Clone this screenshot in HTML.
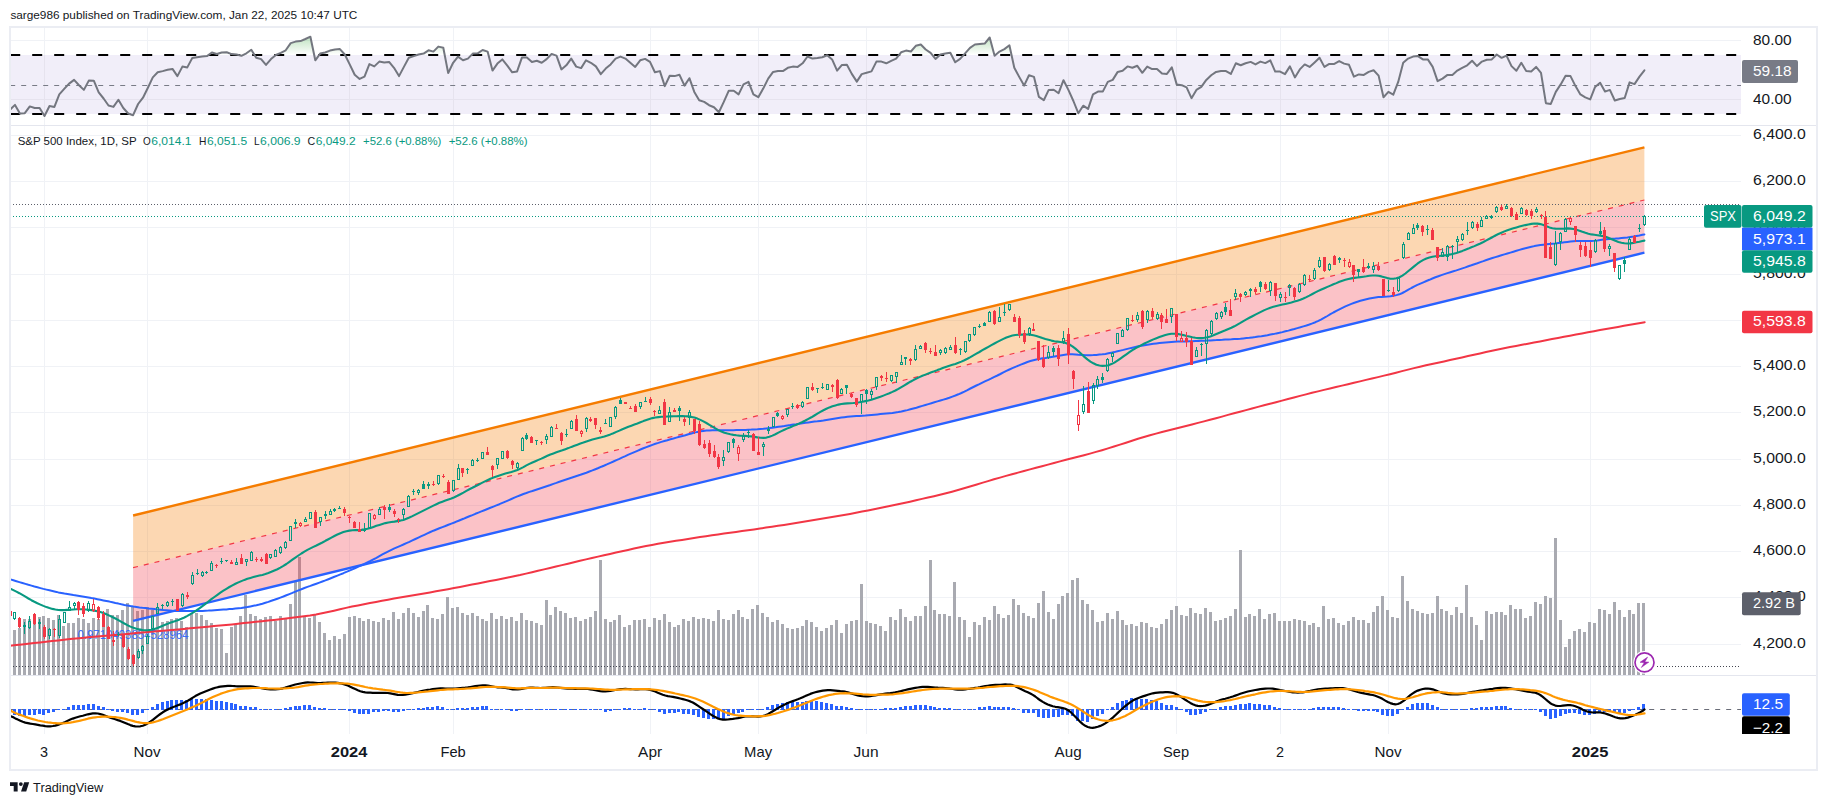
<!DOCTYPE html>
<html lang="en"><head><meta charset="utf-8"><title>S&amp;P 500 Index chart</title>
<style>
html,body{margin:0;padding:0;background:#fff;}
body{width:1827px;height:805px;overflow:hidden;font-family:"Liberation Sans", "DejaVu Sans", sans-serif;}
svg{display:block}
text{font-family:"Liberation Sans", "DejaVu Sans", sans-serif;}
</style></head><body>
<svg width="1827" height="805" viewBox="0 0 1827 805">
<rect width="1827" height="805" fill="#fff"/>

<g stroke="#f0f2f6" stroke-width="1" fill="none"><path d="M44.5 28V734"/><path d="M147.5 28V734"/><path d="M349.5 28V734"/><path d="M453.5 28V734"/><path d="M650.5 28V734"/><path d="M758.5 28V734"/><path d="M866.5 28V734"/><path d="M1068.5 28V734"/><path d="M1176.5 28V734"/><path d="M1280.5 28V734"/><path d="M1388.5 28V734"/><path d="M1590.5 28V734"/><path d="M10 644.5H1741"/><path d="M10 597.5H1741"/><path d="M10 551.5H1741"/><path d="M10 505.5H1741"/><path d="M10 459.5H1741"/><path d="M10 412.5H1741"/><path d="M10 366.5H1741"/><path d="M10 320.5H1741"/><path d="M10 274.5H1741"/><path d="M10 227.5H1741"/><path d="M10 181.5H1741"/><path d="M10 135.5H1741"/><path d="M10 40.5H1741"/><path d="M10 99.5H1741"/></g>
<defs><linearGradient id="gob" x1="0" y1="0" x2="0" y2="1" gradientUnits="userSpaceOnUse"><stop offset="0" stop-color="#4caf50" stop-opacity="0"/></linearGradient><linearGradient id="gtop" gradientUnits="userSpaceOnUse" x1="0" y1="27" x2="0" y2="55.0"><stop offset="0" stop-color="#4caf50" stop-opacity="0.55"/><stop offset="1" stop-color="#4caf50" stop-opacity="0"/></linearGradient><clipPath id="c70"><rect x="10" y="27" width="1731" height="28.0"/></clipPath><clipPath id="cmain"><rect x="10" y="125.5" width="1731" height="550.0"/></clipPath><clipPath id="cmacd"><rect x="10" y="675.5" width="1731" height="58.5"/></clipPath><clipPath id="crsi"><rect x="10" y="27" width="1731" height="98.5"/></clipPath></defs>
<rect x="10" y="55.0" width="1731" height="59.0" fill="#f1eef9"/>
<g stroke="#e6e3ee" stroke-width="1"><path d="M44.5 55.0V114.0"/><path d="M147.5 55.0V114.0"/><path d="M349.5 55.0V114.0"/><path d="M453.5 55.0V114.0"/><path d="M650.5 55.0V114.0"/><path d="M758.5 55.0V114.0"/><path d="M866.5 55.0V114.0"/><path d="M1068.5 55.0V114.0"/><path d="M1176.5 55.0V114.0"/><path d="M1280.5 55.0V114.0"/><path d="M1388.5 55.0V114.0"/><path d="M1590.5 55.0V114.0"/><path d="M10 99.5H1741"/></g>
<path d="M10.0 55.0L10.0 109.7L15.0 104.9L19.9 113.5L24.8 113.2L29.8 106.4L34.7 108.0L39.6 108.0L44.5 116.0L49.5 106.0L54.4 106.9L59.3 94.4L64.2 88.9L69.1 83.6L74.1 79.9L79.0 85.2L83.9 89.9L88.8 80.6L93.8 80.7L98.7 92.4L103.6 98.5L108.5 105.5L113.4 106.9L118.4 99.7L123.3 108.0L128.2 113.5L133.1 115.2L138.1 104.0L143.0 97.7L147.9 87.7L152.8 77.4L157.7 72.3L162.7 71.1L167.6 69.8L172.5 68.9L177.4 76.1L182.4 66.6L187.3 67.4L192.2 58.1L197.1 57.3L202.1 56.6L207.0 56.1L211.9 52.5L216.8 54.0L221.7 52.5L226.7 52.3L231.6 54.1L236.5 54.5L241.4 55.8L246.4 53.3L251.3 49.8L256.2 57.8L261.1 59.1L266.0 64.9L271.0 59.1L275.9 55.0L280.8 52.8L285.7 50.3L290.7 43.1L295.6 41.6L300.5 41.1L305.4 39.0L310.4 36.7L315.3 60.3L320.2 53.6L325.1 52.5L330.0 50.6L335.0 49.5L339.9 49.1L344.8 54.5L349.7 64.4L354.7 74.8L359.6 78.9L364.5 76.6L369.4 64.1L374.3 66.4L379.3 61.6L384.2 62.4L389.1 61.9L394.0 67.8L399.0 76.1L403.9 66.9L408.8 57.8L413.7 56.1L418.6 54.5L423.6 53.6L428.5 50.3L433.4 51.6L438.3 46.6L443.3 47.8L448.2 73.1L453.1 62.8L458.0 56.6L463.0 60.3L467.9 58.6L472.8 53.6L477.7 53.3L482.6 50.0L487.6 51.6L492.5 70.6L497.4 63.6L502.3 59.4L507.3 65.6L512.2 72.3L517.1 71.4L522.0 57.4L526.9 57.4L531.9 61.9L536.8 60.8L541.7 62.8L546.6 59.1L551.6 54.0L556.5 55.6L561.4 69.4L566.3 65.3L571.2 58.6L576.2 66.6L581.1 68.1L586.0 60.3L590.9 62.8L595.9 66.4L600.8 74.1L605.7 68.6L610.6 64.4L615.6 58.6L620.5 56.6L625.4 58.6L630.3 62.8L635.2 66.9L640.2 60.3L645.1 58.9L650.0 61.9L654.9 72.3L659.9 71.1L664.8 86.1L669.7 75.8L674.6 76.1L679.5 74.8L684.5 85.6L689.4 78.2L694.3 91.9L699.2 100.2L704.2 101.9L709.1 105.2L714.0 107.2L718.9 112.2L723.8 101.9L728.8 90.7L733.7 90.7L738.6 94.4L743.5 84.4L748.5 81.9L753.4 94.4L758.3 97.2L763.2 88.6L768.2 78.6L773.1 71.9L778.0 71.1L782.9 71.1L787.8 67.8L792.8 66.6L797.7 66.9L802.6 63.3L807.5 56.5L812.5 58.6L817.4 58.1L822.3 57.3L827.2 55.3L832.1 59.4L837.1 70.6L842.0 64.9L846.9 64.8L851.8 73.9L856.8 81.6L861.7 74.1L866.6 72.8L871.5 71.4L876.4 61.6L881.4 61.6L886.3 63.3L891.2 60.8L896.1 58.6L901.1 52.3L906.0 50.6L910.9 51.5L915.8 45.8L920.8 44.5L925.7 49.5L930.6 52.8L935.5 58.9L940.4 54.5L945.4 53.6L950.3 52.8L955.2 62.3L960.1 58.9L965.1 53.3L970.0 47.8L974.9 44.5L979.8 44.1L984.7 43.6L989.7 37.5L994.6 55.8L999.5 51.6L1004.4 49.1L1009.4 45.3L1014.3 67.8L1019.2 76.9L1024.1 85.6L1029.0 75.3L1034.0 76.9L1038.9 96.9L1043.8 100.2L1048.7 89.9L1053.7 89.7L1058.6 93.2L1063.5 80.2L1068.4 89.9L1073.4 101.0L1078.3 113.2L1083.2 105.7L1088.1 108.9L1093.0 94.4L1098.0 91.6L1102.9 91.4L1107.8 81.9L1112.7 79.9L1117.7 71.9L1122.6 70.8L1127.5 66.4L1132.4 67.8L1137.3 65.8L1142.3 72.8L1147.2 66.6L1152.1 69.1L1157.0 68.9L1162.0 73.6L1166.9 73.9L1171.8 67.3L1176.7 84.4L1181.7 85.2L1186.6 87.4L1191.5 98.2L1196.4 89.9L1201.3 86.9L1206.3 79.9L1211.2 75.3L1216.1 71.9L1221.0 71.1L1226.0 71.1L1230.9 73.9L1235.8 63.3L1240.7 65.3L1245.6 63.3L1250.6 61.9L1255.5 64.4L1260.4 61.6L1265.3 63.1L1270.3 60.3L1275.2 71.6L1280.1 71.6L1285.0 74.1L1289.9 66.4L1294.9 77.4L1299.8 69.4L1304.7 64.4L1309.6 66.9L1314.6 62.4L1319.5 57.8L1324.4 66.9L1329.3 63.9L1334.3 63.9L1339.2 61.1L1344.1 63.6L1349.0 64.8L1353.9 76.6L1358.9 74.4L1363.8 74.9L1368.7 71.9L1373.6 70.3L1378.6 75.6L1383.5 97.2L1388.4 91.9L1393.3 94.7L1398.2 81.9L1403.2 62.8L1408.1 58.6L1413.0 56.6L1417.9 56.1L1422.9 59.4L1427.8 59.4L1432.7 66.9L1437.6 81.1L1442.5 78.6L1447.5 74.9L1452.4 74.9L1457.3 70.6L1462.2 67.8L1467.2 65.3L1472.1 60.8L1477.0 66.1L1481.9 61.6L1486.9 59.8L1491.8 59.4L1496.7 54.5L1501.6 57.8L1506.5 55.6L1511.5 66.1L1516.4 70.8L1521.3 62.8L1526.2 71.1L1531.2 71.4L1536.1 66.9L1541.0 72.8L1545.9 103.2L1550.8 103.9L1555.8 91.9L1560.7 84.4L1565.6 75.8L1570.5 76.1L1575.5 86.1L1580.4 94.4L1585.3 97.4L1590.2 99.4L1595.1 86.9L1600.1 82.7L1605.0 91.6L1609.9 89.9L1614.8 100.5L1619.8 99.0L1624.7 98.0L1629.6 82.4L1634.5 84.1L1639.5 76.6L1644.4 70.3L1644.4 55.0Z" fill="url(#gtop)" clip-path="url(#c70)"/>
<path d="M10 85.5H1741" stroke="#787b86" stroke-width="1" stroke-dasharray="5 6" stroke-dashoffset="-0.2" fill="none"/>
<path d="M10 55.0H1741M10 114.0H1741" stroke="#000" stroke-width="2" stroke-dasharray="10 12" stroke-dashoffset="-0.2" fill="none"/>
<g clip-path="url(#crsi)"><path d="M10.0 109.7L15.0 104.9L19.9 113.5L24.8 113.2L29.8 106.4L34.7 108.0L39.6 108.0L44.5 116.0L49.5 106.0L54.4 106.9L59.3 94.4L64.2 88.9L69.1 83.6L74.1 79.9L79.0 85.2L83.9 89.9L88.8 80.6L93.8 80.7L98.7 92.4L103.6 98.5L108.5 105.5L113.4 106.9L118.4 99.7L123.3 108.0L128.2 113.5L133.1 115.2L138.1 104.0L143.0 97.7L147.9 87.7L152.8 77.4L157.7 72.3L162.7 71.1L167.6 69.8L172.5 68.9L177.4 76.1L182.4 66.6L187.3 67.4L192.2 58.1L197.1 57.3L202.1 56.6L207.0 56.1L211.9 52.5L216.8 54.0L221.7 52.5L226.7 52.3L231.6 54.1L236.5 54.5L241.4 55.8L246.4 53.3L251.3 49.8L256.2 57.8L261.1 59.1L266.0 64.9L271.0 59.1L275.9 55.0L280.8 52.8L285.7 50.3L290.7 43.1L295.6 41.6L300.5 41.1L305.4 39.0L310.4 36.7L315.3 60.3L320.2 53.6L325.1 52.5L330.0 50.6L335.0 49.5L339.9 49.1L344.8 54.5L349.7 64.4L354.7 74.8L359.6 78.9L364.5 76.6L369.4 64.1L374.3 66.4L379.3 61.6L384.2 62.4L389.1 61.9L394.0 67.8L399.0 76.1L403.9 66.9L408.8 57.8L413.7 56.1L418.6 54.5L423.6 53.6L428.5 50.3L433.4 51.6L438.3 46.6L443.3 47.8L448.2 73.1L453.1 62.8L458.0 56.6L463.0 60.3L467.9 58.6L472.8 53.6L477.7 53.3L482.6 50.0L487.6 51.6L492.5 70.6L497.4 63.6L502.3 59.4L507.3 65.6L512.2 72.3L517.1 71.4L522.0 57.4L526.9 57.4L531.9 61.9L536.8 60.8L541.7 62.8L546.6 59.1L551.6 54.0L556.5 55.6L561.4 69.4L566.3 65.3L571.2 58.6L576.2 66.6L581.1 68.1L586.0 60.3L590.9 62.8L595.9 66.4L600.8 74.1L605.7 68.6L610.6 64.4L615.6 58.6L620.5 56.6L625.4 58.6L630.3 62.8L635.2 66.9L640.2 60.3L645.1 58.9L650.0 61.9L654.9 72.3L659.9 71.1L664.8 86.1L669.7 75.8L674.6 76.1L679.5 74.8L684.5 85.6L689.4 78.2L694.3 91.9L699.2 100.2L704.2 101.9L709.1 105.2L714.0 107.2L718.9 112.2L723.8 101.9L728.8 90.7L733.7 90.7L738.6 94.4L743.5 84.4L748.5 81.9L753.4 94.4L758.3 97.2L763.2 88.6L768.2 78.6L773.1 71.9L778.0 71.1L782.9 71.1L787.8 67.8L792.8 66.6L797.7 66.9L802.6 63.3L807.5 56.5L812.5 58.6L817.4 58.1L822.3 57.3L827.2 55.3L832.1 59.4L837.1 70.6L842.0 64.9L846.9 64.8L851.8 73.9L856.8 81.6L861.7 74.1L866.6 72.8L871.5 71.4L876.4 61.6L881.4 61.6L886.3 63.3L891.2 60.8L896.1 58.6L901.1 52.3L906.0 50.6L910.9 51.5L915.8 45.8L920.8 44.5L925.7 49.5L930.6 52.8L935.5 58.9L940.4 54.5L945.4 53.6L950.3 52.8L955.2 62.3L960.1 58.9L965.1 53.3L970.0 47.8L974.9 44.5L979.8 44.1L984.7 43.6L989.7 37.5L994.6 55.8L999.5 51.6L1004.4 49.1L1009.4 45.3L1014.3 67.8L1019.2 76.9L1024.1 85.6L1029.0 75.3L1034.0 76.9L1038.9 96.9L1043.8 100.2L1048.7 89.9L1053.7 89.7L1058.6 93.2L1063.5 80.2L1068.4 89.9L1073.4 101.0L1078.3 113.2L1083.2 105.7L1088.1 108.9L1093.0 94.4L1098.0 91.6L1102.9 91.4L1107.8 81.9L1112.7 79.9L1117.7 71.9L1122.6 70.8L1127.5 66.4L1132.4 67.8L1137.3 65.8L1142.3 72.8L1147.2 66.6L1152.1 69.1L1157.0 68.9L1162.0 73.6L1166.9 73.9L1171.8 67.3L1176.7 84.4L1181.7 85.2L1186.6 87.4L1191.5 98.2L1196.4 89.9L1201.3 86.9L1206.3 79.9L1211.2 75.3L1216.1 71.9L1221.0 71.1L1226.0 71.1L1230.9 73.9L1235.8 63.3L1240.7 65.3L1245.6 63.3L1250.6 61.9L1255.5 64.4L1260.4 61.6L1265.3 63.1L1270.3 60.3L1275.2 71.6L1280.1 71.6L1285.0 74.1L1289.9 66.4L1294.9 77.4L1299.8 69.4L1304.7 64.4L1309.6 66.9L1314.6 62.4L1319.5 57.8L1324.4 66.9L1329.3 63.9L1334.3 63.9L1339.2 61.1L1344.1 63.6L1349.0 64.8L1353.9 76.6L1358.9 74.4L1363.8 74.9L1368.7 71.9L1373.6 70.3L1378.6 75.6L1383.5 97.2L1388.4 91.9L1393.3 94.7L1398.2 81.9L1403.2 62.8L1408.1 58.6L1413.0 56.6L1417.9 56.1L1422.9 59.4L1427.8 59.4L1432.7 66.9L1437.6 81.1L1442.5 78.6L1447.5 74.9L1452.4 74.9L1457.3 70.6L1462.2 67.8L1467.2 65.3L1472.1 60.8L1477.0 66.1L1481.9 61.6L1486.9 59.8L1491.8 59.4L1496.7 54.5L1501.6 57.8L1506.5 55.6L1511.5 66.1L1516.4 70.8L1521.3 62.8L1526.2 71.1L1531.2 71.4L1536.1 66.9L1541.0 72.8L1545.9 103.2L1550.8 103.9L1555.8 91.9L1560.7 84.4L1565.6 75.8L1570.5 76.1L1575.5 86.1L1580.4 94.4L1585.3 97.4L1590.2 99.4L1595.1 86.9L1600.1 82.7L1605.0 91.6L1609.9 89.9L1614.8 100.5L1619.8 99.0L1624.7 98.0L1629.6 82.4L1634.5 84.1L1639.5 76.6L1644.4 70.3" fill="none" stroke="#73767f" stroke-width="2" stroke-linejoin="round" stroke-linecap="round"/></g>
<g clip-path="url(#cmain)">
<g fill="#a9aab1"><rect x="10.00" y="623" width="1.00" height="52.5"/><rect x="13.00" y="630" width="3.00" height="45.5"/><rect x="18.00" y="628" width="3.00" height="47.5"/><rect x="23.00" y="619" width="3.00" height="56.5"/><rect x="28.00" y="619" width="3.00" height="56.5"/><rect x="33.00" y="619" width="3.00" height="56.5"/><rect x="38.00" y="617" width="3.00" height="58.5"/><rect x="42.00" y="616" width="3.00" height="59.5"/><rect x="47.00" y="618" width="3.00" height="57.5"/><rect x="52.00" y="620" width="3.00" height="55.5"/><rect x="57.00" y="615" width="3.00" height="60.5"/><rect x="62.00" y="626" width="3.00" height="49.5"/><rect x="67.00" y="623" width="3.00" height="52.5"/><rect x="72.00" y="623" width="3.00" height="52.5"/><rect x="77.00" y="618" width="3.00" height="57.5"/><rect x="82.00" y="619" width="3.00" height="56.5"/><rect x="87.00" y="623" width="3.00" height="52.5"/><rect x="92.00" y="618" width="3.00" height="57.5"/><rect x="97.00" y="619" width="3.00" height="56.5"/><rect x="102.00" y="616" width="3.00" height="59.5"/><rect x="106.00" y="609" width="3.00" height="66.5"/><rect x="111.00" y="615" width="3.00" height="60.5"/><rect x="116.00" y="615" width="3.00" height="60.5"/><rect x="121.00" y="610" width="3.00" height="65.5"/><rect x="126.00" y="603" width="3.00" height="72.5"/><rect x="131.00" y="606" width="3.00" height="69.5"/><rect x="136.00" y="611" width="3.00" height="64.5"/><rect x="141.00" y="610" width="3.00" height="65.5"/><rect x="146.00" y="607" width="3.00" height="68.5"/><rect x="151.00" y="610" width="3.00" height="65.5"/><rect x="156.00" y="611" width="3.00" height="64.5"/><rect x="161.00" y="622" width="3.00" height="53.5"/><rect x="166.00" y="621" width="3.00" height="54.5"/><rect x="170.00" y="619" width="3.00" height="56.5"/><rect x="175.00" y="618" width="3.00" height="57.5"/><rect x="180.00" y="621" width="3.00" height="54.5"/><rect x="185.00" y="627" width="3.00" height="48.5"/><rect x="190.00" y="613" width="3.00" height="62.5"/><rect x="195.00" y="613" width="3.00" height="62.5"/><rect x="200.00" y="615" width="3.00" height="60.5"/><rect x="205.00" y="620" width="3.00" height="55.5"/><rect x="210.00" y="623" width="3.00" height="52.5"/><rect x="215.00" y="628" width="3.00" height="47.5"/><rect x="220.00" y="629" width="3.00" height="46.5"/><rect x="225.00" y="653" width="3.00" height="22.5"/><rect x="230.00" y="627" width="3.00" height="48.5"/><rect x="234.00" y="624" width="3.00" height="51.5"/><rect x="239.00" y="616" width="3.00" height="59.5"/><rect x="244.00" y="595" width="3.00" height="80.5"/><rect x="249.00" y="614" width="3.00" height="61.5"/><rect x="254.00" y="616" width="3.00" height="59.5"/><rect x="259.00" y="619" width="3.00" height="56.5"/><rect x="264.00" y="617" width="3.00" height="58.5"/><rect x="269.00" y="616" width="3.00" height="59.5"/><rect x="274.00" y="621" width="3.00" height="54.5"/><rect x="279.00" y="616" width="3.00" height="59.5"/><rect x="284.00" y="619" width="3.00" height="56.5"/><rect x="289.00" y="604" width="3.00" height="71.5"/><rect x="294.00" y="582" width="3.00" height="93.5"/><rect x="298.00" y="557" width="3.00" height="118.5"/><rect x="303.00" y="617" width="3.00" height="58.5"/><rect x="308.00" y="618" width="3.00" height="57.5"/><rect x="313.00" y="615" width="3.00" height="60.5"/><rect x="318.00" y="622" width="3.00" height="53.5"/><rect x="323.00" y="633" width="3.00" height="42.5"/><rect x="328.00" y="640" width="3.00" height="35.5"/><rect x="333.00" y="636" width="3.00" height="39.5"/><rect x="338.00" y="639" width="3.00" height="36.5"/><rect x="343.00" y="634" width="3.00" height="41.5"/><rect x="348.00" y="617" width="3.00" height="58.5"/><rect x="353.00" y="616" width="3.00" height="59.5"/><rect x="358.00" y="618" width="3.00" height="57.5"/><rect x="362.00" y="621" width="3.00" height="54.5"/><rect x="367.00" y="619" width="3.00" height="56.5"/><rect x="372.00" y="621" width="3.00" height="54.5"/><rect x="377.00" y="622" width="3.00" height="53.5"/><rect x="382.00" y="618" width="3.00" height="57.5"/><rect x="387.00" y="620" width="3.00" height="55.5"/><rect x="392.00" y="612" width="3.00" height="63.5"/><rect x="397.00" y="619" width="3.00" height="56.5"/><rect x="402.00" y="613" width="3.00" height="62.5"/><rect x="407.00" y="608" width="3.00" height="67.5"/><rect x="412.00" y="613" width="3.00" height="62.5"/><rect x="417.00" y="617" width="3.00" height="58.5"/><rect x="422.00" y="611" width="3.00" height="64.5"/><rect x="426.00" y="605" width="3.00" height="70.5"/><rect x="431.00" y="618" width="3.00" height="57.5"/><rect x="436.00" y="619" width="3.00" height="56.5"/><rect x="441.00" y="614" width="3.00" height="61.5"/><rect x="446.00" y="597" width="3.00" height="78.5"/><rect x="451.00" y="608" width="3.00" height="67.5"/><rect x="456.00" y="607" width="3.00" height="68.5"/><rect x="461.00" y="613" width="3.00" height="62.5"/><rect x="466.00" y="615" width="3.00" height="60.5"/><rect x="471.00" y="613" width="3.00" height="62.5"/><rect x="476.00" y="616" width="3.00" height="59.5"/><rect x="481.00" y="619" width="3.00" height="56.5"/><rect x="485.00" y="621" width="3.00" height="54.5"/><rect x="490.00" y="613" width="3.00" height="62.5"/><rect x="495.00" y="619" width="3.00" height="56.5"/><rect x="500.00" y="616" width="3.00" height="59.5"/><rect x="505.00" y="619" width="3.00" height="56.5"/><rect x="510.00" y="617" width="3.00" height="58.5"/><rect x="515.00" y="621" width="3.00" height="54.5"/><rect x="520.00" y="613" width="3.00" height="62.5"/><rect x="525.00" y="620" width="3.00" height="55.5"/><rect x="530.00" y="621" width="3.00" height="54.5"/><rect x="535.00" y="623" width="3.00" height="52.5"/><rect x="540.00" y="625" width="3.00" height="50.5"/><rect x="545.00" y="600" width="3.00" height="75.5"/><rect x="549.00" y="615" width="3.00" height="60.5"/><rect x="554.00" y="607" width="3.00" height="68.5"/><rect x="559.00" y="611" width="3.00" height="64.5"/><rect x="564.00" y="613" width="3.00" height="62.5"/><rect x="569.00" y="618" width="3.00" height="57.5"/><rect x="574.00" y="617" width="3.00" height="58.5"/><rect x="579.00" y="621" width="3.00" height="54.5"/><rect x="584.00" y="619" width="3.00" height="56.5"/><rect x="589.00" y="617" width="3.00" height="58.5"/><rect x="594.00" y="611" width="3.00" height="64.5"/><rect x="599.00" y="560" width="3.00" height="115.5"/><rect x="604.00" y="619" width="3.00" height="56.5"/><rect x="609.00" y="622" width="3.00" height="53.5"/><rect x="613.00" y="620" width="3.00" height="55.5"/><rect x="618.00" y="615" width="3.00" height="60.5"/><rect x="623.00" y="627" width="3.00" height="48.5"/><rect x="628.00" y="625" width="3.00" height="50.5"/><rect x="633.00" y="620" width="3.00" height="55.5"/><rect x="638.00" y="620" width="3.00" height="55.5"/><rect x="643.00" y="619" width="3.00" height="56.5"/><rect x="648.00" y="627" width="3.00" height="48.5"/><rect x="653.00" y="618" width="3.00" height="57.5"/><rect x="658.00" y="620" width="3.00" height="55.5"/><rect x="663.00" y="614" width="3.00" height="61.5"/><rect x="668.00" y="622" width="3.00" height="53.5"/><rect x="673.00" y="627" width="3.00" height="48.5"/><rect x="677.00" y="625" width="3.00" height="50.5"/><rect x="682.00" y="619" width="3.00" height="56.5"/><rect x="687.00" y="621" width="3.00" height="54.5"/><rect x="692.00" y="617" width="3.00" height="58.5"/><rect x="697.00" y="619" width="3.00" height="56.5"/><rect x="702.00" y="618" width="3.00" height="57.5"/><rect x="707.00" y="619" width="3.00" height="56.5"/><rect x="712.00" y="621" width="3.00" height="54.5"/><rect x="717.00" y="610" width="3.00" height="65.5"/><rect x="722.00" y="619" width="3.00" height="56.5"/><rect x="727.00" y="620" width="3.00" height="55.5"/><rect x="732.00" y="614" width="3.00" height="61.5"/><rect x="737.00" y="610" width="3.00" height="65.5"/><rect x="741.00" y="617" width="3.00" height="58.5"/><rect x="746.00" y="619" width="3.00" height="56.5"/><rect x="751.00" y="609" width="3.00" height="66.5"/><rect x="756.00" y="605" width="3.00" height="70.5"/><rect x="761.00" y="613" width="3.00" height="62.5"/><rect x="766.00" y="617" width="3.00" height="58.5"/><rect x="771.00" y="622" width="3.00" height="53.5"/><rect x="776.00" y="620" width="3.00" height="55.5"/><rect x="781.00" y="624" width="3.00" height="51.5"/><rect x="786.00" y="628" width="3.00" height="47.5"/><rect x="791.00" y="629" width="3.00" height="46.5"/><rect x="796.00" y="628" width="3.00" height="47.5"/><rect x="801.00" y="626" width="3.00" height="49.5"/><rect x="805.00" y="620" width="3.00" height="55.5"/><rect x="810.00" y="622" width="3.00" height="53.5"/><rect x="815.00" y="627" width="3.00" height="48.5"/><rect x="820.00" y="631" width="3.00" height="44.5"/><rect x="825.00" y="628" width="3.00" height="47.5"/><rect x="830.00" y="625" width="3.00" height="50.5"/><rect x="835.00" y="620" width="3.00" height="55.5"/><rect x="840.00" y="633" width="3.00" height="42.5"/><rect x="845.00" y="624" width="3.00" height="51.5"/><rect x="850.00" y="621" width="3.00" height="54.5"/><rect x="855.00" y="620" width="3.00" height="55.5"/><rect x="860.00" y="584" width="3.00" height="91.5"/><rect x="865.00" y="621" width="3.00" height="54.5"/><rect x="869.00" y="623" width="3.00" height="52.5"/><rect x="874.00" y="624" width="3.00" height="51.5"/><rect x="879.00" y="626" width="3.00" height="49.5"/><rect x="884.00" y="631" width="3.00" height="44.5"/><rect x="889.00" y="617" width="3.00" height="58.5"/><rect x="894.00" y="620" width="3.00" height="55.5"/><rect x="899.00" y="609" width="3.00" height="66.5"/><rect x="904.00" y="617" width="3.00" height="58.5"/><rect x="909.00" y="621" width="3.00" height="54.5"/><rect x="914.00" y="616" width="3.00" height="59.5"/><rect x="919.00" y="616" width="3.00" height="59.5"/><rect x="924.00" y="606" width="3.00" height="69.5"/><rect x="929.00" y="560" width="3.00" height="115.5"/><rect x="933.00" y="610" width="3.00" height="65.5"/><rect x="938.00" y="614" width="3.00" height="61.5"/><rect x="943.00" y="614" width="3.00" height="61.5"/><rect x="948.00" y="616" width="3.00" height="59.5"/><rect x="953.00" y="582" width="3.00" height="93.5"/><rect x="958.00" y="617" width="3.00" height="58.5"/><rect x="963.00" y="620" width="3.00" height="55.5"/><rect x="968.00" y="637" width="3.00" height="38.5"/><rect x="973.00" y="622" width="3.00" height="53.5"/><rect x="978.00" y="625" width="3.00" height="50.5"/><rect x="983.00" y="617" width="3.00" height="58.5"/><rect x="988.00" y="620" width="3.00" height="55.5"/><rect x="993.00" y="606" width="3.00" height="69.5"/><rect x="997.00" y="614" width="3.00" height="61.5"/><rect x="1002.00" y="618" width="3.00" height="57.5"/><rect x="1007.00" y="615" width="3.00" height="60.5"/><rect x="1012.00" y="599" width="3.00" height="76.5"/><rect x="1017.00" y="605" width="3.00" height="70.5"/><rect x="1022.00" y="613" width="3.00" height="62.5"/><rect x="1027.00" y="616" width="3.00" height="59.5"/><rect x="1032.00" y="618" width="3.00" height="57.5"/><rect x="1037.00" y="603" width="3.00" height="72.5"/><rect x="1042.00" y="591" width="3.00" height="84.5"/><rect x="1047.00" y="612" width="3.00" height="63.5"/><rect x="1052.00" y="619" width="3.00" height="56.5"/><rect x="1057.00" y="604" width="3.00" height="71.5"/><rect x="1061.00" y="596" width="3.00" height="79.5"/><rect x="1066.00" y="593" width="3.00" height="82.5"/><rect x="1071.00" y="580" width="3.00" height="95.5"/><rect x="1076.00" y="578" width="3.00" height="97.5"/><rect x="1081.00" y="600" width="3.00" height="75.5"/><rect x="1086.00" y="604" width="3.00" height="71.5"/><rect x="1091.00" y="610" width="3.00" height="65.5"/><rect x="1096.00" y="622" width="3.00" height="53.5"/><rect x="1101.00" y="621" width="3.00" height="54.5"/><rect x="1106.00" y="613" width="3.00" height="62.5"/><rect x="1111.00" y="619" width="3.00" height="56.5"/><rect x="1116.00" y="611" width="3.00" height="64.5"/><rect x="1121.00" y="620" width="3.00" height="55.5"/><rect x="1125.00" y="625" width="3.00" height="50.5"/><rect x="1130.00" y="624" width="3.00" height="51.5"/><rect x="1135.00" y="626" width="3.00" height="49.5"/><rect x="1140.00" y="622" width="3.00" height="53.5"/><rect x="1145.00" y="623" width="3.00" height="52.5"/><rect x="1150.00" y="627" width="3.00" height="48.5"/><rect x="1155.00" y="628" width="3.00" height="47.5"/><rect x="1160.00" y="624" width="3.00" height="51.5"/><rect x="1165.00" y="619" width="3.00" height="56.5"/><rect x="1170.00" y="610" width="3.00" height="65.5"/><rect x="1175.00" y="606" width="3.00" height="69.5"/><rect x="1180.00" y="615" width="3.00" height="60.5"/><rect x="1185.00" y="616" width="3.00" height="59.5"/><rect x="1189.00" y="608" width="3.00" height="67.5"/><rect x="1194.00" y="613" width="3.00" height="62.5"/><rect x="1199.00" y="614" width="3.00" height="61.5"/><rect x="1204.00" y="608" width="3.00" height="67.5"/><rect x="1209.00" y="612" width="3.00" height="63.5"/><rect x="1214.00" y="621" width="3.00" height="54.5"/><rect x="1219.00" y="620" width="3.00" height="55.5"/><rect x="1224.00" y="618" width="3.00" height="57.5"/><rect x="1229.00" y="616" width="3.00" height="59.5"/><rect x="1234.00" y="609" width="3.00" height="66.5"/><rect x="1239.00" y="550" width="3.00" height="125.5"/><rect x="1244.00" y="617" width="3.00" height="58.5"/><rect x="1248.00" y="614" width="3.00" height="61.5"/><rect x="1253.00" y="616" width="3.00" height="59.5"/><rect x="1258.00" y="609" width="3.00" height="66.5"/><rect x="1263.00" y="619" width="3.00" height="56.5"/><rect x="1268.00" y="614" width="3.00" height="61.5"/><rect x="1273.00" y="613" width="3.00" height="62.5"/><rect x="1278.00" y="621" width="3.00" height="54.5"/><rect x="1283.00" y="621" width="3.00" height="54.5"/><rect x="1288.00" y="621" width="3.00" height="54.5"/><rect x="1293.00" y="619" width="3.00" height="56.5"/><rect x="1298.00" y="620" width="3.00" height="55.5"/><rect x="1303.00" y="621" width="3.00" height="54.5"/><rect x="1308.00" y="625" width="3.00" height="50.5"/><rect x="1312.00" y="623" width="3.00" height="52.5"/><rect x="1317.00" y="627" width="3.00" height="48.5"/><rect x="1322.00" y="606" width="3.00" height="69.5"/><rect x="1327.00" y="619" width="3.00" height="56.5"/><rect x="1332.00" y="618" width="3.00" height="57.5"/><rect x="1337.00" y="623" width="3.00" height="52.5"/><rect x="1342.00" y="625" width="3.00" height="50.5"/><rect x="1347.00" y="621" width="3.00" height="54.5"/><rect x="1352.00" y="617" width="3.00" height="58.5"/><rect x="1357.00" y="620" width="3.00" height="55.5"/><rect x="1362.00" y="620" width="3.00" height="55.5"/><rect x="1367.00" y="623" width="3.00" height="52.5"/><rect x="1372.00" y="612" width="3.00" height="63.5"/><rect x="1376.00" y="606" width="3.00" height="69.5"/><rect x="1381.00" y="596" width="3.00" height="79.5"/><rect x="1386.00" y="610" width="3.00" height="65.5"/><rect x="1391.00" y="617" width="3.00" height="58.5"/><rect x="1396.00" y="618" width="3.00" height="57.5"/><rect x="1401.00" y="576" width="3.00" height="99.5"/><rect x="1406.00" y="601" width="3.00" height="74.5"/><rect x="1411.00" y="609" width="3.00" height="66.5"/><rect x="1416.00" y="611" width="3.00" height="64.5"/><rect x="1421.00" y="613" width="3.00" height="62.5"/><rect x="1426.00" y="614" width="3.00" height="61.5"/><rect x="1431.00" y="613" width="3.00" height="62.5"/><rect x="1436.00" y="596" width="3.00" height="79.5"/><rect x="1440.00" y="609" width="3.00" height="66.5"/><rect x="1445.00" y="611" width="3.00" height="64.5"/><rect x="1450.00" y="615" width="3.00" height="60.5"/><rect x="1455.00" y="607" width="3.00" height="68.5"/><rect x="1460.00" y="613" width="3.00" height="62.5"/><rect x="1465.00" y="585" width="3.00" height="90.5"/><rect x="1470.00" y="617" width="3.00" height="58.5"/><rect x="1475.00" y="625" width="3.00" height="50.5"/><rect x="1480.00" y="640" width="3.00" height="35.5"/><rect x="1485.00" y="611" width="3.00" height="64.5"/><rect x="1490.00" y="614" width="3.00" height="61.5"/><rect x="1495.00" y="612" width="3.00" height="63.5"/><rect x="1500.00" y="612" width="3.00" height="63.5"/><rect x="1504.00" y="615" width="3.00" height="60.5"/><rect x="1509.00" y="605" width="3.00" height="70.5"/><rect x="1514.00" y="609" width="3.00" height="66.5"/><rect x="1519.00" y="609" width="3.00" height="66.5"/><rect x="1524.00" y="618" width="3.00" height="57.5"/><rect x="1529.00" y="616" width="3.00" height="59.5"/><rect x="1534.00" y="602" width="3.00" height="73.5"/><rect x="1539.00" y="604" width="3.00" height="71.5"/><rect x="1544.00" y="596" width="3.00" height="79.5"/><rect x="1549.00" y="598" width="3.00" height="77.5"/><rect x="1554.00" y="538" width="3.00" height="137.5"/><rect x="1559.00" y="620" width="3.00" height="55.5"/><rect x="1564.00" y="647" width="3.00" height="28.5"/><rect x="1568.00" y="639" width="3.00" height="36.5"/><rect x="1573.00" y="631" width="3.00" height="44.5"/><rect x="1578.00" y="629" width="3.00" height="46.5"/><rect x="1583.00" y="632" width="3.00" height="43.5"/><rect x="1588.00" y="622" width="3.00" height="53.5"/><rect x="1593.00" y="623" width="3.00" height="52.5"/><rect x="1598.00" y="609" width="3.00" height="66.5"/><rect x="1603.00" y="610" width="3.00" height="65.5"/><rect x="1608.00" y="614" width="3.00" height="61.5"/><rect x="1613.00" y="602" width="3.00" height="73.5"/><rect x="1618.00" y="610" width="3.00" height="65.5"/><rect x="1623.00" y="617" width="3.00" height="58.5"/><rect x="1628.00" y="610" width="3.00" height="65.5"/><rect x="1632.00" y="614" width="3.00" height="61.5"/><rect x="1637.00" y="603" width="3.00" height="72.5"/><rect x="1642.00" y="603" width="3.00" height="72.5"/></g>
<path d="M133.1 515.5L1644.4 147.3L1644.4 200.0L133.1 567.7Z" fill="#f57c00" fill-opacity="0.3"/>
<path d="M133.1 567.7L1644.4 200.0L1644.4 252.7L133.1 620.8Z" fill="#f23645" fill-opacity="0.3"/>
<path d="M133.1 567.7L1644.4 200.0" stroke="#f23645" stroke-width="1.2" stroke-dasharray="5 6" fill="none"/>
<path d="M133.1 515.5L1644.4 147.3" stroke="#f57c00" stroke-width="2.4" fill="none"/>
<path d="M133.1 620.8L1644.4 252.7" stroke="#2962ff" stroke-width="2.4" fill="none"/>
<path d="M10 204.5H1741" stroke="#5d606b" stroke-width="1" stroke-dasharray="1 2" fill="none"/>
<path d="M10 216.5H1704" stroke="#089981" stroke-width="1" stroke-dasharray="1 2" fill="none"/>
<path d="M10 666.5H1741" stroke="#434651" stroke-width="1" stroke-dasharray="1 2" fill="none"/>
<text x="77.5" y="638.8" font-size="12" fill="#2962ff" textLength="111" lengthAdjust="spacingAndGlyphs" fill-opacity="0.9">0.9710493854528964</text>
<path d="M10.0 645.8L16.0 645.1L22.0 644.4L28.0 643.8L34.0 643.1L40.0 642.4L46.0 641.7L52.0 641.0L58.0 640.4L64.0 639.7L70.0 639.1L76.0 638.4L82.0 637.9L88.0 637.3L94.0 636.8L100.0 636.3L106.0 635.8L112.0 635.2L118.0 634.7L124.0 634.2L130.0 633.7L136.0 633.1L142.0 632.6L148.0 632.1L154.0 631.5L160.0 631.0L166.0 630.5L172.0 629.9L178.0 629.4L184.0 628.9L190.0 628.3L196.0 627.8L202.0 627.2L208.0 626.7L214.0 626.1L220.0 625.6L226.0 625.0L232.0 624.4L238.0 623.7L244.0 623.1L250.0 622.4L256.0 621.8L262.0 621.2L268.0 620.5L274.0 619.9L280.0 619.2L286.0 618.5L292.0 617.8L298.0 617.0L304.0 616.2L310.0 615.4L316.0 614.4L322.0 613.2L328.0 612.0L334.0 610.7L340.0 609.3L346.0 607.9L352.0 606.6L358.0 605.4L364.0 604.2L370.0 603.1L376.0 601.9L382.0 600.8L388.0 599.7L394.0 598.6L400.0 597.6L406.0 596.5L412.0 595.5L418.0 594.4L424.0 593.4L430.0 592.4L436.0 591.3L442.0 590.3L448.0 589.2L454.0 588.1L460.0 587.0L466.0 585.8L472.0 584.6L478.0 583.4L484.0 582.2L490.0 581.1L496.0 579.9L502.0 578.7L508.0 577.5L514.0 576.2L520.0 575.0L526.0 573.6L532.0 572.2L538.0 570.8L544.0 569.4L550.0 568.0L556.0 566.5L562.0 565.1L568.0 563.7L574.0 562.2L580.0 560.8L586.0 559.4L592.0 558.0L598.0 556.6L604.0 555.2L610.0 553.9L616.0 552.5L622.0 551.2L628.0 549.9L634.0 548.5L640.0 547.2L646.0 546.0L652.0 544.9L658.0 543.8L664.0 542.8L670.0 541.8L676.0 540.8L682.0 539.9L688.0 538.9L694.0 538.0L700.0 537.1L706.0 536.2L712.0 535.3L718.0 534.5L724.0 533.6L730.0 532.8L736.0 532.0L742.0 531.1L748.0 530.3L754.0 529.4L760.0 528.5L766.0 527.6L772.0 526.7L778.0 525.8L784.0 524.9L790.0 524.0L796.0 523.1L802.0 522.1L808.0 521.1L814.0 520.1L820.0 519.1L826.0 518.1L832.0 517.1L838.0 516.0L844.0 515.0L850.0 513.9L856.0 512.8L862.0 511.6L868.0 510.4L874.0 509.2L880.0 508.0L886.0 506.8L892.0 505.6L898.0 504.3L904.0 503.0L910.0 501.7L916.0 500.3L922.0 498.9L928.0 497.6L934.0 496.2L940.0 494.8L946.0 493.3L952.0 491.7L958.0 490.0L964.0 488.3L970.0 486.5L976.0 484.7L982.0 482.9L988.0 481.1L994.0 479.3L1000.0 477.6L1006.0 475.9L1012.0 474.3L1018.0 472.6L1024.0 471.0L1030.0 469.4L1036.0 467.8L1042.0 466.2L1048.0 464.6L1054.0 463.0L1060.0 461.4L1066.0 459.8L1072.0 458.3L1078.0 456.7L1084.0 455.2L1090.0 453.6L1096.0 451.9L1102.0 450.2L1108.0 448.4L1114.0 446.5L1120.0 444.6L1126.0 442.7L1132.0 440.8L1138.0 438.8L1144.0 437.0L1150.0 435.3L1156.0 433.6L1162.0 432.0L1168.0 430.5L1174.0 429.0L1180.0 427.5L1186.0 426.0L1192.0 424.5L1198.0 422.9L1204.0 421.4L1210.0 419.8L1216.0 418.2L1222.0 416.6L1228.0 414.9L1234.0 413.3L1240.0 411.7L1246.0 410.1L1252.0 408.5L1258.0 406.9L1264.0 405.3L1270.0 403.8L1276.0 402.2L1282.0 400.6L1288.0 399.0L1294.0 397.5L1300.0 395.9L1306.0 394.4L1312.0 392.8L1318.0 391.4L1324.0 389.9L1330.0 388.5L1336.0 387.0L1342.0 385.6L1348.0 384.2L1354.0 382.8L1360.0 381.4L1366.0 379.9L1372.0 378.5L1378.0 377.1L1384.0 375.6L1390.0 374.2L1396.0 372.7L1402.0 371.1L1408.0 369.6L1414.0 368.1L1420.0 366.7L1426.0 365.3L1432.0 364.0L1438.0 362.7L1444.0 361.4L1450.0 360.0L1456.0 358.7L1462.0 357.4L1468.0 356.1L1474.0 354.7L1480.0 353.4L1486.0 352.1L1492.0 350.8L1498.0 349.5L1504.0 348.3L1510.0 347.1L1516.0 346.0L1522.0 344.8L1528.0 343.7L1534.0 342.5L1540.0 341.4L1546.0 340.3L1552.0 339.1L1558.0 338.0L1564.0 336.8L1570.0 335.7L1576.0 334.6L1582.0 333.4L1588.0 332.3L1594.0 331.2L1600.0 330.1L1606.0 329.0L1612.0 327.9L1618.0 326.9L1624.0 325.8L1630.0 324.8L1636.0 323.8L1642.0 322.7L1644.7 322.2" fill="none" stroke="#f23645" stroke-width="2" stroke-linejoin="round" stroke-linecap="round"/>
<path d="M10.4 579.4L13.4 580.3L16.4 581.2L19.4 582.1L22.4 583.0L25.4 583.9L28.4 584.8L31.4 585.6L34.4 586.5L37.4 587.3L40.4 588.1L43.4 588.9L46.4 589.6L49.4 590.3L52.4 591.0L55.4 591.7L58.4 592.4L61.4 593.0L64.4 593.6L67.4 594.1L70.4 594.6L73.4 595.1L76.4 595.5L79.4 596.0L82.4 596.5L85.4 597.0L88.4 597.5L91.4 598.1L94.4 598.6L97.4 599.2L100.4 599.8L103.4 600.4L106.4 601.0L109.4 601.6L112.4 602.3L115.4 603.0L118.4 603.6L121.4 604.3L124.4 604.9L127.4 605.4L130.4 606.0L133.4 606.5L136.4 606.9L139.4 607.4L142.4 607.8L145.4 608.1L148.4 608.5L151.4 608.8L154.4 609.1L157.4 609.4L160.4 609.7L163.4 610.0L166.4 610.2L169.4 610.4L172.4 610.7L175.4 610.9L178.4 611.0L181.4 611.1L184.4 611.1L187.4 611.1L190.4 611.1L193.4 611.1L196.4 611.1L199.4 611.0L202.4 610.9L205.4 610.7L208.4 610.6L211.4 610.4L214.4 610.2L217.4 610.0L220.4 609.8L223.4 609.6L226.4 609.4L229.4 609.1L232.4 608.9L235.4 608.6L238.4 608.3L241.4 608.0L244.4 607.5L247.4 607.0L250.4 606.4L253.4 605.8L256.4 605.2L259.4 604.5L262.4 603.7L265.4 602.8L268.4 601.9L271.4 600.8L274.4 599.8L277.4 598.7L280.4 597.6L283.4 596.5L286.4 595.3L289.4 594.1L292.4 592.9L295.4 591.6L298.4 590.4L301.4 589.2L304.4 588.0L307.4 586.9L310.4 585.9L313.4 584.8L316.4 583.7L319.4 582.6L322.4 581.5L325.4 580.4L328.4 579.2L331.4 578.0L334.4 576.8L337.4 575.6L340.4 574.4L343.4 573.2L346.4 571.9L349.4 570.6L352.4 569.3L355.4 568.0L358.4 566.7L361.4 565.4L364.4 564.0L367.4 562.5L370.4 561.0L373.4 559.4L376.4 557.8L379.4 556.1L382.4 554.4L385.4 552.8L388.4 551.3L391.4 549.8L394.4 548.4L397.4 547.1L400.4 545.8L403.4 544.5L406.4 543.1L409.4 541.8L412.4 540.4L415.4 539.0L418.4 537.6L421.4 536.2L424.4 534.8L427.4 533.4L430.4 532.0L433.4 530.7L436.4 529.5L439.4 528.3L442.4 527.1L445.4 526.0L448.4 524.8L451.4 523.6L454.4 522.5L457.4 521.2L460.4 520.0L463.4 518.8L466.4 517.5L469.4 516.3L472.4 515.1L475.4 513.8L478.4 512.6L481.4 511.4L484.4 510.2L487.4 509.0L490.4 507.8L493.4 506.6L496.4 505.4L499.4 504.2L502.4 502.9L505.4 501.6L508.4 500.3L511.4 499.0L514.4 497.7L517.4 496.4L520.4 495.2L523.4 494.0L526.4 493.0L529.4 491.9L532.4 491.0L535.4 490.0L538.4 489.0L541.4 488.0L544.4 487.0L547.4 486.0L550.4 485.0L553.4 483.9L556.4 482.9L559.4 481.8L562.4 480.8L565.4 479.8L568.4 478.8L571.4 477.8L574.4 476.8L577.4 475.8L580.4 474.8L583.4 473.7L586.4 472.7L589.4 471.5L592.4 470.4L595.4 469.2L598.4 468.0L601.4 466.7L604.4 465.5L607.4 464.2L610.4 462.8L613.4 461.5L616.4 460.1L619.4 458.8L622.4 457.4L625.4 456.1L628.4 454.7L631.4 453.4L634.4 452.1L637.4 450.8L640.4 449.5L643.4 448.3L646.4 447.1L649.4 446.0L652.4 444.9L655.4 443.8L658.4 442.9L661.4 441.9L664.4 441.0L667.4 440.2L670.4 439.3L673.4 438.5L676.4 437.6L679.4 436.8L682.4 436.0L685.4 435.2L688.4 434.3L691.4 433.5L694.4 432.6L697.4 431.9L700.4 431.3L703.4 430.9L706.4 430.6L709.4 430.4L712.4 430.3L715.4 430.3L718.4 430.3L721.4 430.3L724.4 430.3L727.4 430.2L730.4 430.2L733.4 430.2L736.4 430.1L739.4 430.0L742.4 430.0L745.4 429.9L748.4 429.7L751.4 429.6L754.4 429.4L757.4 429.3L760.4 429.0L763.4 428.8L766.4 428.4L769.4 428.1L772.4 427.7L775.4 427.3L778.4 426.8L781.4 426.4L784.4 426.0L787.4 425.5L790.4 425.1L793.4 424.6L796.4 424.2L799.4 423.7L802.4 423.3L805.4 422.8L808.4 422.4L811.4 422.0L814.4 421.6L817.4 421.3L820.4 420.9L823.4 420.5L826.4 420.0L829.4 419.5L832.4 419.0L835.4 418.5L838.4 418.0L841.4 417.6L844.4 417.2L847.4 416.8L850.4 416.5L853.4 416.3L856.4 416.1L859.4 416.0L862.4 415.8L865.4 415.6L868.4 415.3L871.4 415.0L874.4 414.7L877.4 414.4L880.4 414.1L883.4 413.8L886.4 413.5L889.4 413.2L892.4 412.9L895.4 412.5L898.4 412.1L901.4 411.5L904.4 410.8L907.4 410.1L910.4 409.3L913.4 408.5L916.4 407.7L919.4 406.8L922.4 405.9L925.4 405.0L928.4 404.1L931.4 403.2L934.4 402.3L937.4 401.4L940.4 400.5L943.4 399.6L946.4 398.7L949.4 397.7L952.4 396.6L955.4 395.5L958.4 394.3L961.4 393.0L964.4 391.6L967.4 390.1L970.4 388.5L973.4 387.0L976.4 385.5L979.4 384.1L982.4 382.6L985.4 381.2L988.4 379.8L991.4 378.4L994.4 376.9L997.4 375.5L1000.4 374.0L1003.4 372.4L1006.4 370.9L1009.4 369.5L1012.4 368.2L1015.4 366.9L1018.4 365.6L1021.4 364.4L1024.4 363.2L1027.4 362.0L1030.4 361.0L1033.4 360.2L1036.4 359.5L1039.4 358.9L1042.4 358.3L1045.4 357.9L1048.4 357.4L1051.4 356.9L1054.4 356.4L1057.4 355.9L1060.4 355.4L1063.4 354.9L1066.4 354.6L1069.4 354.3L1072.4 354.3L1075.4 354.4L1078.4 354.7L1081.4 354.9L1084.4 355.1L1087.4 355.2L1090.4 355.2L1093.4 355.1L1096.4 354.9L1099.4 354.6L1102.4 354.3L1105.4 353.9L1108.4 353.3L1111.4 352.7L1114.4 352.1L1117.4 351.3L1120.4 350.6L1123.4 349.9L1126.4 349.1L1129.4 348.4L1132.4 347.7L1135.4 347.0L1138.4 346.3L1141.4 345.7L1144.4 345.2L1147.4 344.7L1150.4 344.2L1153.4 343.8L1156.4 343.4L1159.4 343.0L1162.4 342.7L1165.4 342.4L1168.4 342.2L1171.4 342.0L1174.4 341.8L1177.4 341.6L1180.4 341.5L1183.4 341.4L1186.4 341.4L1189.4 341.3L1192.4 341.2L1195.4 341.1L1198.4 341.0L1201.4 340.8L1204.4 340.7L1207.4 340.5L1210.4 340.4L1213.4 340.2L1216.4 340.1L1219.4 339.9L1222.4 339.8L1225.4 339.6L1228.4 339.4L1231.4 339.3L1234.4 339.1L1237.4 338.9L1240.4 338.7L1243.4 338.4L1246.4 338.1L1249.4 337.8L1252.4 337.4L1255.4 337.1L1258.4 336.6L1261.4 336.2L1264.4 335.7L1267.4 335.2L1270.4 334.6L1273.4 334.1L1276.4 333.4L1279.4 332.8L1282.4 332.1L1285.4 331.3L1288.4 330.6L1291.4 329.8L1294.4 329.0L1297.4 328.1L1300.4 327.3L1303.4 326.4L1306.4 325.5L1309.4 324.5L1312.4 323.4L1315.4 322.2L1318.4 320.8L1321.4 319.3L1324.4 317.7L1327.4 316.0L1330.4 314.2L1333.4 312.5L1336.4 310.9L1339.4 309.3L1342.4 307.8L1345.4 306.4L1348.4 305.1L1351.4 303.9L1354.4 302.8L1357.4 301.8L1360.4 300.8L1363.4 300.0L1366.4 299.2L1369.4 298.5L1372.4 297.9L1375.4 297.5L1378.4 297.1L1381.4 296.9L1384.4 296.7L1387.4 296.5L1390.4 296.2L1393.4 295.8L1396.4 295.1L1399.4 294.3L1402.4 293.0L1405.4 291.4L1408.4 289.7L1411.4 288.0L1414.4 286.4L1417.4 284.9L1420.4 283.6L1423.4 282.3L1426.4 281.0L1429.4 279.8L1432.4 278.5L1435.4 277.3L1438.4 276.2L1441.4 275.1L1444.4 274.1L1447.4 273.1L1450.4 272.2L1453.4 271.3L1456.4 270.4L1459.4 269.4L1462.4 268.4L1465.4 267.4L1468.4 266.3L1471.4 265.3L1474.4 264.2L1477.4 263.2L1480.4 262.1L1483.4 261.1L1486.4 260.0L1489.4 259.0L1492.4 258.0L1495.4 257.1L1498.4 256.2L1501.4 255.3L1504.4 254.4L1507.4 253.5L1510.4 252.6L1513.4 251.7L1516.4 250.8L1519.4 249.9L1522.4 249.0L1525.4 248.2L1528.4 247.5L1531.4 246.8L1534.4 246.1L1537.4 245.6L1540.4 245.1L1543.4 244.7L1546.4 244.3L1549.4 244.0L1552.4 243.7L1555.4 243.4L1558.4 243.0L1561.4 242.7L1564.4 242.3L1567.4 241.9L1570.4 241.5L1573.4 241.3L1576.4 241.1L1579.4 241.1L1582.4 241.1L1585.4 241.1L1588.4 241.0L1591.4 240.9L1594.4 240.7L1597.4 240.4L1600.4 240.0L1603.4 239.6L1606.4 239.3L1609.4 239.0L1612.4 238.7L1615.4 238.6L1618.4 238.4L1621.4 238.1L1624.4 237.8L1627.4 237.5L1630.4 237.0L1633.4 236.5L1636.4 235.9L1639.4 235.4L1642.4 234.8L1644.4 234.4" fill="none" stroke="#2962ff" stroke-width="2" stroke-linejoin="round" stroke-linecap="round"/>
<path d="M10.4 588.8L13.4 590.1L16.4 591.6L19.4 593.2L22.4 594.9L25.4 596.7L28.4 598.5L31.4 600.2L34.4 601.8L37.4 603.3L40.4 604.6L43.4 605.9L46.4 607.1L49.4 608.1L52.4 608.9L55.4 609.5L58.4 610.0L61.4 610.1L64.4 610.1L67.4 609.9L70.4 609.7L73.4 609.5L76.4 609.3L79.4 609.2L82.4 609.3L85.4 609.5L88.4 609.7L91.4 610.1L94.4 610.6L97.4 611.2L100.4 612.0L103.4 613.0L106.4 614.2L109.4 615.6L112.4 617.0L115.4 618.5L118.4 620.1L121.4 621.8L124.4 623.5L127.4 625.1L130.4 626.6L133.4 627.8L136.4 628.7L139.4 629.4L142.4 630.0L145.4 630.2L148.4 630.1L151.4 629.7L154.4 629.0L157.4 628.0L160.4 626.8L163.4 625.5L166.4 624.3L169.4 623.1L172.4 622.1L175.4 621.1L178.4 620.0L181.4 618.8L184.4 617.5L187.4 615.9L190.4 614.2L193.4 612.4L196.4 610.4L199.4 608.3L202.4 606.1L205.4 603.8L208.4 601.5L211.4 599.2L214.4 597.0L217.4 594.8L220.4 592.7L223.4 590.7L226.4 588.8L229.4 587.0L232.4 585.4L235.4 583.8L238.4 582.4L241.4 581.1L244.4 579.9L247.4 578.8L250.4 577.9L253.4 577.1L256.4 576.3L259.4 575.6L262.4 574.9L265.4 574.0L268.4 573.0L271.4 571.8L274.4 570.5L277.4 569.2L280.4 567.6L283.4 565.9L286.4 564.0L289.4 561.9L292.4 559.7L295.4 557.6L298.4 555.5L301.4 553.5L304.4 551.6L307.4 549.9L310.4 548.4L313.4 546.9L316.4 545.5L319.4 544.0L322.4 542.5L325.4 540.8L328.4 539.2L331.4 537.6L334.4 536.0L337.4 534.5L340.4 533.2L343.4 532.1L346.4 531.2L349.4 530.6L352.4 530.3L355.4 530.1L358.4 530.1L361.4 529.9L364.4 529.4L367.4 528.8L370.4 528.0L373.4 526.9L376.4 525.8L379.4 524.9L382.4 524.0L385.4 523.1L388.4 522.5L391.4 522.0L394.4 521.6L397.4 521.1L400.4 520.6L403.4 519.9L406.4 518.8L409.4 517.5L412.4 516.1L415.4 514.6L418.4 513.1L421.4 511.6L424.4 510.1L427.4 508.6L430.4 507.1L433.4 505.6L436.4 504.2L439.4 502.8L442.4 501.7L445.4 500.6L448.4 499.5L451.4 498.5L454.4 497.2L457.4 495.8L460.4 494.2L463.4 492.6L466.4 490.9L469.4 489.3L472.4 487.8L475.4 486.2L478.4 484.7L481.4 483.1L484.4 481.6L487.4 480.2L490.4 478.8L493.4 477.6L496.4 476.5L499.4 475.4L502.4 474.4L505.4 473.5L508.4 472.7L511.4 472.0L514.4 471.1L517.4 470.0L520.4 468.6L523.4 467.1L526.4 465.4L529.4 463.9L532.4 462.5L535.4 461.2L538.4 459.9L541.4 458.6L544.4 457.2L547.4 455.8L550.4 454.5L553.4 453.4L556.4 452.3L559.4 451.3L562.4 450.3L565.4 449.2L568.4 448.1L571.4 446.9L574.4 445.8L577.4 444.7L580.4 443.6L583.4 442.6L586.4 441.5L589.4 440.5L592.4 439.5L595.4 438.7L598.4 438.0L601.4 437.3L604.4 436.5L607.4 435.5L610.4 434.4L613.4 433.2L616.4 431.9L619.4 430.6L622.4 429.2L625.4 428.0L628.4 426.8L631.4 425.7L634.4 424.6L637.4 423.5L640.4 422.3L643.4 421.1L646.4 420.0L649.4 418.9L652.4 418.1L655.4 417.5L658.4 417.1L661.4 416.8L664.4 416.7L667.4 416.5L670.4 416.4L673.4 416.3L676.4 416.2L679.4 416.1L682.4 416.1L685.4 416.2L688.4 416.4L691.4 416.9L694.4 417.6L697.4 418.6L700.4 419.9L703.4 421.4L706.4 423.0L709.4 424.8L712.4 426.6L715.4 428.4L718.4 430.1L721.4 431.5L724.4 432.7L727.4 433.6L730.4 434.3L733.4 434.9L736.4 435.3L739.4 435.6L742.4 435.8L745.4 435.9L748.4 436.2L751.4 436.4L754.4 436.9L757.4 437.4L760.4 437.8L763.4 437.9L766.4 437.6L769.4 436.8L772.4 435.6L775.4 434.2L778.4 432.6L781.4 431.1L784.4 429.7L787.4 428.4L790.4 427.2L793.4 425.9L796.4 424.7L799.4 423.4L802.4 422.0L805.4 420.5L808.4 418.9L811.4 417.3L814.4 415.5L817.4 413.7L820.4 411.9L823.4 410.3L826.4 408.8L829.4 407.4L832.4 406.3L835.4 405.4L838.4 404.6L841.4 404.0L844.4 403.6L847.4 403.4L850.4 403.2L853.4 403.0L856.4 402.7L859.4 402.3L862.4 401.7L865.4 401.1L868.4 400.5L871.4 399.7L874.4 398.8L877.4 397.8L880.4 396.8L883.4 395.6L886.4 394.4L889.4 393.2L892.4 391.9L895.4 390.5L898.4 388.9L901.4 387.1L904.4 385.3L907.4 383.5L910.4 381.7L913.4 380.1L916.4 378.5L919.4 377.1L922.4 375.8L925.4 374.6L928.4 373.4L931.4 372.3L934.4 371.3L937.4 370.1L940.4 369.0L943.4 367.8L946.4 366.7L949.4 365.7L952.4 364.8L955.4 363.9L958.4 362.8L961.4 361.6L964.4 360.2L967.4 358.7L970.4 357.1L973.4 355.4L976.4 353.7L979.4 352.0L982.4 350.2L985.4 348.5L988.4 346.8L991.4 345.1L994.4 343.5L997.4 341.9L1000.4 340.4L1003.4 338.9L1006.4 337.5L1009.4 336.4L1012.4 335.5L1015.4 335.0L1018.4 334.7L1021.4 334.6L1024.4 334.5L1027.4 334.5L1030.4 334.8L1033.4 335.3L1036.4 336.0L1039.4 337.0L1042.4 338.1L1045.4 339.0L1048.4 339.8L1051.4 340.6L1054.4 341.2L1057.4 341.6L1060.4 342.0L1063.4 342.5L1066.4 343.2L1069.4 344.5L1072.4 346.3L1075.4 348.6L1078.4 351.3L1081.4 354.1L1084.4 356.9L1087.4 359.4L1090.4 361.6L1093.4 363.3L1096.4 364.7L1099.4 365.5L1102.4 365.9L1105.4 365.8L1108.4 365.2L1111.4 364.1L1114.4 362.6L1117.4 360.7L1120.4 358.6L1123.4 356.4L1126.4 354.3L1129.4 352.2L1132.4 350.2L1135.4 348.4L1138.4 346.7L1141.4 345.1L1144.4 343.5L1147.4 342.1L1150.4 340.7L1153.4 339.4L1156.4 338.2L1159.4 337.1L1162.4 336.0L1165.4 335.0L1168.4 334.3L1171.4 333.8L1174.4 333.7L1177.4 333.9L1180.4 334.5L1183.4 335.1L1186.4 335.9L1189.4 336.6L1192.4 337.3L1195.4 337.8L1198.4 338.1L1201.4 338.1L1204.4 337.8L1207.4 337.3L1210.4 336.4L1213.4 335.3L1216.4 334.0L1219.4 332.7L1222.4 331.5L1225.4 330.3L1228.4 329.0L1231.4 327.8L1234.4 326.3L1237.4 324.6L1240.4 322.9L1243.4 321.1L1246.4 319.4L1249.4 317.8L1252.4 316.2L1255.4 314.6L1258.4 313.1L1261.4 311.6L1264.4 310.1L1267.4 308.9L1270.4 307.7L1273.4 306.8L1276.4 306.0L1279.4 305.3L1282.4 304.6L1285.4 303.9L1288.4 303.2L1291.4 302.5L1294.4 301.6L1297.4 300.7L1300.4 299.7L1303.4 298.5L1306.4 297.1L1309.4 295.6L1312.4 294.0L1315.4 292.4L1318.4 290.9L1321.4 289.5L1324.4 288.2L1327.4 286.9L1330.4 285.6L1333.4 284.3L1336.4 283.1L1339.4 281.8L1342.4 280.7L1345.4 279.8L1348.4 279.0L1351.4 278.4L1354.4 277.9L1357.4 277.5L1360.4 277.1L1363.4 276.7L1366.4 276.3L1369.4 275.8L1372.4 275.5L1375.4 275.5L1378.4 275.8L1381.4 276.4L1384.4 277.2L1387.4 278.1L1390.4 278.7L1393.4 278.8L1396.4 278.3L1399.4 277.2L1402.4 275.6L1405.4 273.5L1408.4 271.0L1411.4 268.6L1414.4 266.1L1417.4 263.7L1420.4 261.6L1423.4 259.9L1426.4 258.5L1429.4 257.5L1432.4 256.7L1435.4 256.3L1438.4 256.0L1441.4 255.7L1444.4 255.4L1447.4 255.0L1450.4 254.4L1453.4 253.7L1456.4 252.9L1459.4 252.0L1462.4 250.9L1465.4 249.7L1468.4 248.6L1471.4 247.3L1474.4 246.1L1477.4 244.8L1480.4 243.5L1483.4 242.0L1486.4 240.4L1489.4 238.8L1492.4 237.2L1495.4 235.5L1498.4 234.0L1501.4 232.7L1504.4 231.4L1507.4 230.2L1510.4 229.2L1513.4 228.3L1516.4 227.4L1519.4 226.5L1522.4 225.8L1525.4 225.1L1528.4 224.5L1531.4 223.9L1534.4 223.5L1537.4 223.6L1540.4 224.1L1543.4 225.0L1546.4 226.2L1549.4 227.4L1552.4 228.2L1555.4 228.6L1558.4 228.7L1561.4 228.7L1564.4 228.6L1567.4 228.4L1570.4 228.6L1573.4 229.0L1576.4 229.7L1579.4 230.7L1582.4 231.8L1585.4 232.8L1588.4 233.7L1591.4 234.4L1594.4 234.8L1597.4 235.2L1600.4 235.6L1603.4 236.2L1606.4 237.1L1609.4 238.2L1612.4 239.5L1615.4 240.8L1618.4 242.0L1621.4 242.8L1624.4 243.3L1627.4 243.5L1630.4 243.4L1633.4 242.9L1636.4 242.3L1639.4 241.7L1642.4 241.0L1644.4 240.6" fill="none" stroke="#089981" stroke-width="2.1" stroke-linejoin="round" stroke-linecap="round"/>
<path d="M14.5 619.0V620.0M24.5 622.0V625.0M24.5 627.0V634.0M29.5 616.0V621.0M29.5 628.0V629.0M39.5 619.0V622.0M39.5 624.0V629.0M49.5 628.0V629.0M49.5 636.0V639.0M59.5 615.0V619.0M59.5 636.0V638.0M69.5 601.0V607.0M74.5 602.0V603.0M74.5 606.0V609.0M88.5 601.0V603.0M88.5 611.0V612.0M118.5 632.0V634.0M118.5 635.0V636.0M138.5 649.0V651.0M138.5 658.0V659.0M142.5 645.0V646.0M142.5 651.0V654.0M147.5 634.0V636.0M152.5 629.0V630.0M157.5 603.0V607.0M162.5 604.0V605.0M162.5 606.0V609.0M167.5 601.0V602.0M167.5 606.0V607.0M172.5 599.0V601.0M172.5 602.0V606.0M182.5 593.0V594.0M182.5 606.0V607.0M192.5 572.0V575.0M192.5 584.0V585.0M197.5 569.0V573.0M197.5 574.0V575.0M202.5 571.0V572.0M202.5 576.0V577.0M206.5 571.0V572.0M206.5 573.0V574.0M211.5 561.0V563.0M221.5 558.0V561.0M221.5 562.0V564.0M226.5 561.0V562.0M236.5 558.0V562.0M246.5 562.0V566.0M251.5 551.0V552.0M270.5 558.0V559.0M275.5 549.0V550.0M280.5 546.0V547.0M280.5 553.0V554.0M285.5 541.0V542.0M285.5 548.0V549.0M295.5 519.0V522.0M295.5 524.0V528.0M305.5 517.0V519.0M320.5 522.0V526.0M325.5 511.0V514.0M325.5 516.0V519.0M330.5 509.0V511.0M334.5 508.0V509.0M334.5 511.0V512.0M339.5 506.0V508.0M364.5 523.0V530.0M364.5 531.0V532.0M379.5 507.0V509.0M389.5 504.0V507.0M389.5 510.0V512.0M403.5 508.0V509.0M403.5 515.0V519.0M408.5 495.0V496.0M413.5 489.0V491.0M413.5 492.0V495.0M418.5 489.0V490.0M418.5 493.0V495.0M423.5 481.0V484.0M428.5 482.0V484.0M428.5 486.0V489.0M438.5 484.0V485.0M453.5 491.0V492.0M458.5 464.0V468.0M467.5 468.0V469.0M467.5 470.0V474.0M472.5 459.0V460.0M477.5 458.0V460.0M477.5 461.0V462.0M497.5 465.0V469.0M517.5 462.0V463.0M517.5 468.0V471.0M522.5 437.0V438.0M526.5 433.0V435.0M526.5 439.0V440.0M536.5 441.0V445.0M546.5 434.0V436.0M546.5 440.0V444.0M551.5 426.0V427.0M566.5 429.0V434.0M566.5 435.0V437.0M571.5 420.0V421.0M586.5 417.0V418.0M586.5 429.0V432.0M605.5 419.0V423.0M615.5 406.0V407.0M615.5 417.0V419.0M620.5 398.0V400.0M640.5 407.0V409.0M645.5 397.0V401.0M659.5 406.0V410.0M669.5 407.0V412.0M679.5 406.0V408.0M679.5 411.0V421.0M689.5 410.0V412.0M689.5 418.0V425.0M723.5 450.0V457.0M723.5 461.0V466.0M728.5 452.0V453.0M733.5 438.0V439.0M733.5 443.0V448.0M743.5 433.0V436.0M743.5 440.0V442.0M748.5 430.0V432.0M748.5 433.0V438.0M763.5 442.0V444.0M763.5 447.0V456.0M768.5 426.0V429.0M768.5 431.0V434.0M777.5 412.0V413.0M777.5 416.0V417.0M787.5 415.0V417.0M792.5 403.0V406.0M792.5 407.0V409.0M802.5 401.0V402.0M802.5 407.0V408.0M817.5 389.0V393.0M822.5 383.0V387.0M822.5 388.0V389.0M841.5 388.0V389.0M846.5 388.0V394.0M861.5 402.0V414.0M866.5 389.0V390.0M866.5 394.0V404.0M871.5 389.0V391.0M871.5 395.0V399.0M876.5 387.0V390.0M891.5 381.0V382.0M896.5 377.0V383.0M901.5 355.0V362.0M905.5 359.0V365.0M915.5 345.0V349.0M915.5 360.0V361.0M920.5 345.0V346.0M940.5 349.0V350.0M940.5 353.0V355.0M945.5 347.0V348.0M945.5 353.0V354.0M950.5 345.0V347.0M960.5 348.0V349.0M960.5 350.0V355.0M965.5 352.0V353.0M969.5 341.0V342.0M974.5 335.0V336.0M979.5 324.0V326.0M979.5 327.0V328.0M984.5 322.0V323.0M989.5 311.0V312.0M999.5 307.0V317.0M1004.5 304.0V312.0M1004.5 313.0V316.0M1009.5 310.0V311.0M1029.5 327.0V328.0M1029.5 334.0V336.0M1048.5 346.0V352.0M1048.5 358.0V359.0M1053.5 346.0V348.0M1053.5 352.0V356.0M1063.5 331.0V338.0M1063.5 342.0V344.0M1083.5 386.0V404.0M1083.5 412.0V414.0M1093.5 383.0V385.0M1093.5 401.0V404.0M1097.5 376.0V379.0M1097.5 386.0V389.0M1102.5 373.0V377.0M1102.5 380.0V383.0M1107.5 358.0V359.0M1107.5 371.0V372.0M1112.5 352.0V353.0M1112.5 357.0V362.0M1122.5 329.0V330.0M1127.5 330.0V331.0M1137.5 312.0V315.0M1137.5 320.0V322.0M1147.5 310.0V311.0M1147.5 320.0V323.0M1157.5 312.0V314.0M1157.5 319.0V320.0M1171.5 317.0V323.0M1196.5 347.0V350.0M1201.5 343.0V344.0M1201.5 345.0V356.0M1206.5 329.0V330.0M1206.5 344.0V364.0M1211.5 320.0V321.0M1211.5 334.0V335.0M1216.5 312.0V313.0M1216.5 319.0V320.0M1221.5 311.0V312.0M1221.5 317.0V319.0M1225.5 303.0V307.0M1225.5 312.0V315.0M1235.5 289.0V293.0M1235.5 297.0V300.0M1245.5 291.0V292.0M1245.5 295.0V296.0M1250.5 288.0V289.0M1250.5 291.0V297.0M1260.5 281.0V282.0M1260.5 287.0V292.0M1270.5 281.0V282.0M1270.5 291.0V296.0M1280.5 292.0V294.0M1280.5 298.0V302.0M1289.5 284.0V285.0M1289.5 288.0V296.0M1299.5 283.0V284.0M1299.5 292.0V293.0M1304.5 274.0V275.0M1304.5 285.0V286.0M1314.5 268.0V270.0M1314.5 279.0V280.0M1319.5 257.0V260.0M1319.5 267.0V268.0M1329.5 263.0V264.0M1329.5 270.0V271.0M1339.5 257.0V258.0M1339.5 260.0V263.0M1358.5 272.0V277.0M1368.5 263.0V266.0M1368.5 268.0V269.0M1373.5 262.0V266.0M1373.5 270.0V273.0M1388.5 280.0V290.0M1388.5 291.0V292.0M1398.5 291.0V292.0M1403.5 242.0V244.0M1403.5 258.0V259.0M1408.5 232.0V233.0M1413.5 224.0V228.0M1417.5 223.0V225.0M1417.5 228.0V230.0M1427.5 225.0V229.0M1427.5 230.0V235.0M1442.5 248.0V252.0M1447.5 245.0V246.0M1447.5 257.0V261.0M1452.5 245.0V246.0M1452.5 247.0V259.0M1457.5 236.0V239.0M1457.5 242.0V252.0M1462.5 233.0V234.0M1462.5 240.0V241.0M1467.5 222.0V230.0M1467.5 231.0V235.0M1472.5 221.0V222.0M1472.5 228.0V229.0M1481.5 217.0V220.0M1486.5 215.0V216.0M1491.5 215.0V216.0M1491.5 218.0V219.0M1496.5 206.0V207.0M1496.5 212.0V213.0M1506.5 204.0V206.0M1521.5 207.0V208.0M1536.5 207.0V209.0M1536.5 212.0V213.0M1555.5 231.0V243.0M1555.5 265.0V266.0M1560.5 232.0V233.0M1560.5 242.0V250.0M1565.5 218.0V219.0M1595.5 239.0V240.0M1595.5 252.0V253.0M1600.5 222.0V231.0M1600.5 234.0V236.0M1609.5 244.0V246.0M1609.5 249.0V256.0M1619.5 279.0V280.0M1624.5 257.0V260.0M1624.5 264.0V272.0M1629.5 237.0V239.0M1639.5 224.0V228.0M1639.5 229.0V232.0M1644.5 215.0V216.0M1644.5 225.0V226.0" stroke="#089981" stroke-width="1" fill="none"/>
<path d="M10.5 607.0V611.0M19.5 617.0V618.0M19.5 627.0V628.0M34.5 613.0V614.0M34.5 624.0V625.0M44.5 625.0V627.0M44.5 637.0V639.0M54.5 628.0V629.0M54.5 630.0V637.0M78.5 601.0V602.0M78.5 610.0V615.0M83.5 603.0V606.0M83.5 614.0V617.0M93.5 599.0V604.0M93.5 611.0V612.0M98.5 606.0V607.0M98.5 618.0V620.0M103.5 611.0V614.0M108.5 626.0V627.0M113.5 631.0V640.0M113.5 642.0V646.0M123.5 634.0V635.0M123.5 647.0V648.0M128.5 647.0V649.0M128.5 659.0V660.0M133.5 654.0V655.0M133.5 664.0V666.0M187.5 592.0V595.0M187.5 597.0V599.0M216.5 564.0V565.0M216.5 566.0V568.0M231.5 560.0V562.0M241.5 554.0V558.0M256.5 557.0V559.0M256.5 560.0V562.0M261.5 557.0V559.0M261.5 561.0V562.0M266.5 553.0V554.0M300.5 522.0V523.0M300.5 526.0V527.0M315.5 510.0V512.0M344.5 507.0V509.0M344.5 513.0V516.0M349.5 516.0V517.0M349.5 518.0V523.0M354.5 521.0V522.0M359.5 522.0V529.0M374.5 514.0V515.0M374.5 519.0V520.0M384.5 505.0V507.0M384.5 510.0V519.0M394.5 509.0V511.0M394.5 514.0V517.0M398.5 518.0V519.0M398.5 520.0V523.0M433.5 481.0V484.0M433.5 485.0V486.0M443.5 474.0V476.0M443.5 477.0V478.0M448.5 480.0V482.0M462.5 473.0V477.0M487.5 447.0V452.0M492.5 465.0V466.0M492.5 470.0V477.0M507.5 450.0V451.0M507.5 458.0V459.0M512.5 460.0V461.0M512.5 465.0V469.0M531.5 436.0V437.0M541.5 441.0V442.0M541.5 443.0V445.0M556.5 424.0V428.0M561.5 432.0V433.0M561.5 441.0V445.0M576.5 415.0V419.0M581.5 430.0V431.0M581.5 434.0V437.0M590.5 417.0V419.0M590.5 421.0V422.0M595.5 425.0V429.0M600.5 427.0V430.0M600.5 432.0V434.0M630.5 406.0V408.0M635.5 404.0V406.0M650.5 397.0V399.0M650.5 403.0V405.0M654.5 410.0V411.0M654.5 412.0V416.0M664.5 399.0V402.0M674.5 408.0V410.0M684.5 417.0V419.0M684.5 422.0V426.0M694.5 431.0V434.0M699.5 421.0V424.0M699.5 445.0V446.0M704.5 440.0V444.0M704.5 448.0V449.0M709.5 440.0V443.0M709.5 454.0V457.0M714.5 445.0V451.0M714.5 457.0V458.0M718.5 454.0V457.0M718.5 467.0V469.0M738.5 445.0V447.0M738.5 454.0V461.0M753.5 433.0V434.0M758.5 437.0V452.0M782.5 415.0V416.0M782.5 419.0V420.0M797.5 404.0V405.0M797.5 408.0V409.0M812.5 383.0V387.0M812.5 390.0V391.0M832.5 384.0V385.0M832.5 387.0V392.0M837.5 379.0V380.0M837.5 398.0V399.0M851.5 393.0V394.0M851.5 397.0V398.0M856.5 405.0V407.0M881.5 375.0V376.0M881.5 378.0V381.0M886.5 372.0V378.0M886.5 379.0V382.0M910.5 358.0V359.0M910.5 361.0V365.0M925.5 342.0V343.0M925.5 350.0V353.0M930.5 348.0V351.0M930.5 352.0V354.0M935.5 345.0V352.0M955.5 337.0V345.0M955.5 353.0V354.0M994.5 310.0V311.0M994.5 324.0V325.0M1014.5 314.0V317.0M1019.5 316.0V318.0M1019.5 335.0V338.0M1024.5 330.0V333.0M1024.5 342.0V344.0M1033.5 323.0V329.0M1038.5 360.0V361.0M1043.5 345.0V359.0M1043.5 367.0V368.0M1058.5 345.0V348.0M1058.5 359.0V366.0M1068.5 328.0V334.0M1068.5 355.0V364.0M1073.5 370.0V371.0M1073.5 379.0V389.0M1078.5 400.0V415.0M1078.5 425.0V431.0M1088.5 382.0V391.0M1132.5 315.0V320.0M1132.5 321.0V322.0M1142.5 310.0V311.0M1142.5 327.0V329.0M1152.5 308.0V311.0M1152.5 317.0V319.0M1161.5 313.0V315.0M1161.5 322.0V329.0M1166.5 309.0V319.0M1176.5 337.0V341.0M1181.5 331.0V338.0M1186.5 332.0V338.0M1186.5 342.0V347.0M1191.5 338.0V341.0M1230.5 299.0V310.0M1240.5 293.0V294.0M1240.5 297.0V302.0M1255.5 287.0V289.0M1255.5 292.0V294.0M1265.5 282.0V284.0M1265.5 289.0V290.0M1275.5 296.0V301.0M1285.5 292.0V297.0M1285.5 298.0V302.0M1294.5 287.0V288.0M1294.5 297.0V300.0M1309.5 275.0V279.0M1309.5 280.0V281.0M1324.5 271.0V272.0M1334.5 255.0V256.0M1344.5 258.0V260.0M1344.5 261.0V267.0M1349.5 259.0V262.0M1349.5 267.0V268.0M1353.5 275.0V282.0M1363.5 259.0V267.0M1363.5 272.0V273.0M1378.5 262.0V266.0M1378.5 270.0V271.0M1393.5 287.0V292.0M1393.5 295.0V297.0M1422.5 225.0V226.0M1422.5 232.0V236.0M1432.5 228.0V230.0M1437.5 258.0V261.0M1477.5 222.0V224.0M1477.5 228.0V231.0M1501.5 205.0V207.0M1501.5 210.0V211.0M1511.5 207.0V208.0M1511.5 216.0V217.0M1516.5 212.0V214.0M1526.5 209.0V210.0M1526.5 215.0V216.0M1531.5 209.0V211.0M1531.5 216.0V219.0M1541.5 214.0V215.0M1541.5 216.0V219.0M1545.5 211.0V217.0M1550.5 242.0V247.0M1570.5 217.0V218.0M1570.5 222.0V225.0M1575.5 235.0V242.0M1580.5 242.0V245.0M1580.5 250.0V257.0M1585.5 242.0V246.0M1585.5 256.0V257.0M1590.5 242.0V250.0M1590.5 258.0V267.0M1604.5 227.0V230.0M1604.5 249.0V252.0M1614.5 268.0V272.0M1634.5 235.0V236.0" stroke="#f23645" stroke-width="1" fill="none"/>
<rect x="9.0" y="611.0" width="3" height="5.0" fill="#f23645"/><rect x="13.5" y="612.5" width="2" height="6.0" fill="none" stroke="#089981" stroke-width="1"/><rect x="18.0" y="618.0" width="3" height="9.0" fill="#f23645"/><rect x="23.0" y="625.0" width="3" height="2.0" fill="#089981"/><rect x="28.5" y="621.5" width="2" height="6.0" fill="none" stroke="#089981" stroke-width="1"/><rect x="33.0" y="614.0" width="3" height="10.0" fill="#f23645"/><rect x="38.0" y="622.0" width="3" height="2.0" fill="#089981"/><rect x="43.0" y="627.0" width="3" height="10.0" fill="#f23645"/><rect x="48.5" y="629.5" width="2" height="6.0" fill="none" stroke="#089981" stroke-width="1"/><rect x="53.0" y="629.0" width="3" height="1.0" fill="#f23645"/><rect x="58.5" y="619.5" width="2" height="16.0" fill="none" stroke="#089981" stroke-width="1"/><rect x="63.5" y="612.5" width="2" height="10.0" fill="none" stroke="#089981" stroke-width="1"/><rect x="68.5" y="607.5" width="2" height="3.0" fill="none" stroke="#089981" stroke-width="1"/><rect x="73.5" y="603.5" width="2" height="2.0" fill="none" stroke="#089981" stroke-width="1"/><rect x="77.0" y="602.0" width="3" height="8.0" fill="#f23645"/><rect x="82.0" y="606.0" width="3" height="8.0" fill="#f23645"/><rect x="87.5" y="603.5" width="2" height="7.0" fill="none" stroke="#089981" stroke-width="1"/><rect x="92.5" y="604.5" width="2" height="6.0" fill="none" stroke="#f23645" stroke-width="1"/><rect x="97.0" y="607.0" width="3" height="11.0" fill="#f23645"/><rect x="102.0" y="614.0" width="3" height="13.0" fill="#f23645"/><rect x="107.0" y="627.0" width="3" height="12.0" fill="#f23645"/><rect x="112.0" y="640.0" width="3" height="2.0" fill="#f23645"/><rect x="117.0" y="634.0" width="3" height="1.0" fill="#089981"/><rect x="122.0" y="635.0" width="3" height="12.0" fill="#f23645"/><rect x="127.0" y="649.0" width="3" height="10.0" fill="#f23645"/><rect x="132.0" y="655.0" width="3" height="9.0" fill="#f23645"/><rect x="137.5" y="651.5" width="2" height="6.0" fill="none" stroke="#089981" stroke-width="1"/><rect x="141.5" y="646.5" width="2" height="4.0" fill="none" stroke="#089981" stroke-width="1"/><rect x="146.5" y="636.5" width="2" height="7.0" fill="none" stroke="#089981" stroke-width="1"/><rect x="151.5" y="616.5" width="2" height="12.0" fill="none" stroke="#089981" stroke-width="1"/><rect x="156.5" y="607.5" width="2" height="6.0" fill="none" stroke="#089981" stroke-width="1"/><rect x="161.0" y="605.0" width="3" height="1.0" fill="#089981"/><rect x="166.5" y="602.5" width="2" height="3.0" fill="none" stroke="#089981" stroke-width="1"/><rect x="171.0" y="601.0" width="3" height="1.0" fill="#089981"/><rect x="176.0" y="599.0" width="3" height="12.0" fill="#f23645"/><rect x="181.5" y="594.5" width="2" height="11.0" fill="none" stroke="#089981" stroke-width="1"/><rect x="186.0" y="595.0" width="3" height="2.0" fill="#f23645"/><rect x="191.5" y="575.5" width="2" height="8.0" fill="none" stroke="#089981" stroke-width="1"/><rect x="196.0" y="573.0" width="3" height="1.0" fill="#089981"/><rect x="201.5" y="572.5" width="2" height="3.0" fill="none" stroke="#089981" stroke-width="1"/><rect x="205.0" y="572.0" width="3" height="1.0" fill="#089981"/><rect x="210.5" y="563.5" width="2" height="7.0" fill="none" stroke="#089981" stroke-width="1"/><rect x="215.0" y="565.0" width="3" height="1.0" fill="#f23645"/><rect x="220.0" y="561.0" width="3" height="1.0" fill="#089981"/><rect x="225.0" y="560.0" width="3" height="1.0" fill="#089981"/><rect x="230.0" y="562.0" width="3" height="2.0" fill="#f23645"/><rect x="235.5" y="562.5" width="2" height="2.0" fill="none" stroke="#089981" stroke-width="1"/><rect x="240.0" y="558.0" width="3" height="6.0" fill="#f23645"/><rect x="245.5" y="559.5" width="2" height="2.0" fill="none" stroke="#089981" stroke-width="1"/><rect x="250.5" y="552.5" width="2" height="8.0" fill="none" stroke="#089981" stroke-width="1"/><rect x="255.0" y="559.0" width="3" height="1.0" fill="#f23645"/><rect x="260.0" y="559.0" width="3" height="2.0" fill="#f23645"/><rect x="265.0" y="554.0" width="3" height="10.0" fill="#f23645"/><rect x="269.5" y="554.5" width="2" height="3.0" fill="none" stroke="#089981" stroke-width="1"/><rect x="274.5" y="550.5" width="2" height="6.0" fill="none" stroke="#089981" stroke-width="1"/><rect x="279.5" y="547.5" width="2" height="5.0" fill="none" stroke="#089981" stroke-width="1"/><rect x="284.5" y="542.5" width="2" height="5.0" fill="none" stroke="#089981" stroke-width="1"/><rect x="289.5" y="526.5" width="2" height="14.0" fill="none" stroke="#089981" stroke-width="1"/><rect x="294.0" y="522.0" width="3" height="2.0" fill="#089981"/><rect x="299.5" y="523.5" width="2" height="2.0" fill="none" stroke="#f23645" stroke-width="1"/><rect x="304.5" y="519.5" width="2" height="2.0" fill="none" stroke="#089981" stroke-width="1"/><rect x="309.5" y="512.5" width="2" height="6.0" fill="none" stroke="#089981" stroke-width="1"/><rect x="314.0" y="512.0" width="3" height="16.0" fill="#f23645"/><rect x="319.5" y="517.5" width="2" height="4.0" fill="none" stroke="#089981" stroke-width="1"/><rect x="324.0" y="514.0" width="3" height="2.0" fill="#089981"/><rect x="329.5" y="511.5" width="2" height="3.0" fill="none" stroke="#089981" stroke-width="1"/><rect x="333.0" y="509.0" width="3" height="2.0" fill="#089981"/><rect x="338.0" y="508.0" width="3" height="1.0" fill="#089981"/><rect x="343.0" y="509.0" width="3" height="4.0" fill="#f23645"/><rect x="348.0" y="517.0" width="3" height="1.0" fill="#f23645"/><rect x="353.0" y="522.0" width="3" height="6.0" fill="#f23645"/><rect x="358.0" y="529.0" width="3" height="3.0" fill="#f23645"/><rect x="363.0" y="530.0" width="3" height="1.0" fill="#089981"/><rect x="368.5" y="513.5" width="2" height="14.0" fill="none" stroke="#089981" stroke-width="1"/><rect x="373.5" y="515.5" width="2" height="3.0" fill="none" stroke="#f23645" stroke-width="1"/><rect x="378.5" y="509.5" width="2" height="5.0" fill="none" stroke="#089981" stroke-width="1"/><rect x="383.0" y="507.0" width="3" height="3.0" fill="#f23645"/><rect x="388.0" y="507.0" width="3" height="3.0" fill="#089981"/><rect x="393.0" y="511.0" width="3" height="3.0" fill="#f23645"/><rect x="397.0" y="519.0" width="3" height="1.0" fill="#f23645"/><rect x="402.5" y="509.5" width="2" height="5.0" fill="none" stroke="#089981" stroke-width="1"/><rect x="407.5" y="496.5" width="2" height="10.0" fill="none" stroke="#089981" stroke-width="1"/><rect x="412.0" y="491.0" width="3" height="1.0" fill="#089981"/><rect x="417.5" y="490.5" width="2" height="2.0" fill="none" stroke="#089981" stroke-width="1"/><rect x="422.0" y="484.0" width="3" height="5.0" fill="#089981"/><rect x="427.0" y="484.0" width="3" height="2.0" fill="#089981"/><rect x="432.0" y="484.0" width="3" height="1.0" fill="#f23645"/><rect x="437.5" y="475.5" width="2" height="8.0" fill="none" stroke="#089981" stroke-width="1"/><rect x="442.0" y="476.0" width="3" height="1.0" fill="#f23645"/><rect x="447.0" y="482.0" width="3" height="12.0" fill="#f23645"/><rect x="452.5" y="480.5" width="2" height="10.0" fill="none" stroke="#089981" stroke-width="1"/><rect x="457.5" y="468.5" width="2" height="11.0" fill="none" stroke="#089981" stroke-width="1"/><rect x="461.0" y="468.0" width="3" height="5.0" fill="#f23645"/><rect x="466.0" y="469.0" width="3" height="1.0" fill="#089981"/><rect x="471.5" y="460.5" width="2" height="5.0" fill="none" stroke="#089981" stroke-width="1"/><rect x="476.0" y="460.0" width="3" height="1.0" fill="#089981"/><rect x="481.5" y="452.5" width="2" height="6.0" fill="none" stroke="#089981" stroke-width="1"/><rect x="486.0" y="452.0" width="3" height="3.0" fill="#f23645"/><rect x="491.0" y="466.0" width="3" height="4.0" fill="#f23645"/><rect x="496.5" y="458.5" width="2" height="6.0" fill="none" stroke="#089981" stroke-width="1"/><rect x="501.5" y="451.5" width="2" height="7.0" fill="none" stroke="#089981" stroke-width="1"/><rect x="506.0" y="451.0" width="3" height="7.0" fill="#f23645"/><rect x="511.0" y="461.0" width="3" height="4.0" fill="#f23645"/><rect x="516.5" y="463.5" width="2" height="4.0" fill="none" stroke="#089981" stroke-width="1"/><rect x="521.5" y="438.5" width="2" height="12.0" fill="none" stroke="#089981" stroke-width="1"/><rect x="525.0" y="435.0" width="3" height="4.0" fill="#089981"/><rect x="530.0" y="437.0" width="3" height="6.0" fill="#f23645"/><rect x="535.0" y="440.0" width="3" height="1.0" fill="#089981"/><rect x="540.0" y="442.0" width="3" height="1.0" fill="#f23645"/><rect x="545.5" y="436.5" width="2" height="3.0" fill="none" stroke="#089981" stroke-width="1"/><rect x="550.5" y="427.5" width="2" height="9.0" fill="none" stroke="#089981" stroke-width="1"/><rect x="555.0" y="428.0" width="3" height="1.0" fill="#f23645"/><rect x="560.0" y="433.0" width="3" height="8.0" fill="#f23645"/><rect x="565.0" y="434.0" width="3" height="1.0" fill="#089981"/><rect x="570.5" y="421.5" width="2" height="7.0" fill="none" stroke="#089981" stroke-width="1"/><rect x="575.0" y="419.0" width="3" height="12.0" fill="#f23645"/><rect x="580.5" y="431.5" width="2" height="2.0" fill="none" stroke="#f23645" stroke-width="1"/><rect x="585.5" y="418.5" width="2" height="10.0" fill="none" stroke="#089981" stroke-width="1"/><rect x="589.0" y="419.0" width="3" height="2.0" fill="#f23645"/><rect x="594.0" y="418.0" width="3" height="7.0" fill="#f23645"/><rect x="599.0" y="430.0" width="3" height="2.0" fill="#f23645"/><rect x="604.0" y="423.0" width="3" height="1.0" fill="#089981"/><rect x="609.5" y="417.5" width="2" height="9.0" fill="none" stroke="#089981" stroke-width="1"/><rect x="614.5" y="407.5" width="2" height="9.0" fill="none" stroke="#089981" stroke-width="1"/><rect x="619.0" y="400.0" width="3" height="4.0" fill="#089981"/><rect x="624.0" y="402.0" width="3" height="2.0" fill="#f23645"/><rect x="629.0" y="408.0" width="3" height="1.0" fill="#f23645"/><rect x="634.0" y="406.0" width="3" height="6.0" fill="#f23645"/><rect x="639.5" y="402.5" width="2" height="4.0" fill="none" stroke="#089981" stroke-width="1"/><rect x="644.0" y="401.0" width="3" height="1.0" fill="#089981"/><rect x="649.0" y="399.0" width="3" height="4.0" fill="#f23645"/><rect x="653.0" y="411.0" width="3" height="1.0" fill="#f23645"/><rect x="658.5" y="410.5" width="2" height="3.0" fill="none" stroke="#089981" stroke-width="1"/><rect x="663.0" y="402.0" width="3" height="23.0" fill="#f23645"/><rect x="668.5" y="412.5" width="2" height="9.0" fill="none" stroke="#089981" stroke-width="1"/><rect x="673.0" y="410.0" width="3" height="2.0" fill="#f23645"/><rect x="678.0" y="408.0" width="3" height="3.0" fill="#089981"/><rect x="683.0" y="419.0" width="3" height="3.0" fill="#f23645"/><rect x="688.5" y="412.5" width="2" height="5.0" fill="none" stroke="#089981" stroke-width="1"/><rect x="693.0" y="419.0" width="3" height="12.0" fill="#f23645"/><rect x="698.0" y="424.0" width="3" height="21.0" fill="#f23645"/><rect x="703.0" y="444.0" width="3" height="4.0" fill="#f23645"/><rect x="708.0" y="443.0" width="3" height="11.0" fill="#f23645"/><rect x="713.0" y="451.0" width="3" height="6.0" fill="#f23645"/><rect x="717.0" y="457.0" width="3" height="10.0" fill="#f23645"/><rect x="722.5" y="457.5" width="2" height="3.0" fill="none" stroke="#089981" stroke-width="1"/><rect x="727.5" y="442.5" width="2" height="9.0" fill="none" stroke="#089981" stroke-width="1"/><rect x="732.0" y="439.0" width="3" height="4.0" fill="#089981"/><rect x="737.5" y="447.5" width="2" height="6.0" fill="none" stroke="#f23645" stroke-width="1"/><rect x="742.5" y="436.5" width="2" height="3.0" fill="none" stroke="#089981" stroke-width="1"/><rect x="747.0" y="432.0" width="3" height="1.0" fill="#089981"/><rect x="752.0" y="434.0" width="3" height="17.0" fill="#f23645"/><rect x="757.0" y="452.0" width="3" height="3.0" fill="#f23645"/><rect x="762.5" y="444.5" width="2" height="2.0" fill="none" stroke="#089981" stroke-width="1"/><rect x="767.0" y="429.0" width="3" height="2.0" fill="#089981"/><rect x="772.5" y="417.5" width="2" height="9.0" fill="none" stroke="#089981" stroke-width="1"/><rect x="776.0" y="413.0" width="3" height="3.0" fill="#089981"/><rect x="781.5" y="416.5" width="2" height="2.0" fill="none" stroke="#f23645" stroke-width="1"/><rect x="786.5" y="409.5" width="2" height="5.0" fill="none" stroke="#089981" stroke-width="1"/><rect x="791.0" y="406.0" width="3" height="1.0" fill="#089981"/><rect x="796.0" y="405.0" width="3" height="3.0" fill="#f23645"/><rect x="801.5" y="402.5" width="2" height="4.0" fill="none" stroke="#089981" stroke-width="1"/><rect x="806.5" y="387.5" width="2" height="11.0" fill="none" stroke="#089981" stroke-width="1"/><rect x="811.0" y="387.0" width="3" height="3.0" fill="#f23645"/><rect x="816.0" y="388.0" width="3" height="1.0" fill="#089981"/><rect x="821.0" y="387.0" width="3" height="1.0" fill="#089981"/><rect x="826.5" y="384.5" width="2" height="5.0" fill="none" stroke="#089981" stroke-width="1"/><rect x="831.0" y="385.0" width="3" height="2.0" fill="#f23645"/><rect x="836.0" y="380.0" width="3" height="18.0" fill="#f23645"/><rect x="840.5" y="389.5" width="2" height="4.0" fill="none" stroke="#089981" stroke-width="1"/><rect x="845.0" y="385.0" width="3" height="3.0" fill="#089981"/><rect x="850.0" y="394.0" width="3" height="3.0" fill="#f23645"/><rect x="855.0" y="398.0" width="3" height="7.0" fill="#f23645"/><rect x="860.5" y="394.5" width="2" height="7.0" fill="none" stroke="#089981" stroke-width="1"/><rect x="865.0" y="390.0" width="3" height="4.0" fill="#089981"/><rect x="870.5" y="391.5" width="2" height="3.0" fill="none" stroke="#089981" stroke-width="1"/><rect x="875.5" y="377.5" width="2" height="9.0" fill="none" stroke="#089981" stroke-width="1"/><rect x="880.0" y="376.0" width="3" height="2.0" fill="#f23645"/><rect x="885.0" y="378.0" width="3" height="1.0" fill="#f23645"/><rect x="890.5" y="375.5" width="2" height="5.0" fill="none" stroke="#089981" stroke-width="1"/><rect x="895.5" y="372.5" width="2" height="4.0" fill="none" stroke="#089981" stroke-width="1"/><rect x="900.5" y="362.5" width="2" height="2.0" fill="none" stroke="#089981" stroke-width="1"/><rect x="904.0" y="357.0" width="3" height="2.0" fill="#089981"/><rect x="909.0" y="359.0" width="3" height="2.0" fill="#f23645"/><rect x="914.5" y="349.5" width="2" height="10.0" fill="none" stroke="#089981" stroke-width="1"/><rect x="919.5" y="346.5" width="2" height="2.0" fill="none" stroke="#089981" stroke-width="1"/><rect x="924.0" y="343.0" width="3" height="7.0" fill="#f23645"/><rect x="929.0" y="351.0" width="3" height="1.0" fill="#f23645"/><rect x="934.0" y="352.0" width="3" height="4.0" fill="#f23645"/><rect x="939.5" y="350.5" width="2" height="2.0" fill="none" stroke="#089981" stroke-width="1"/><rect x="944.5" y="348.5" width="2" height="4.0" fill="none" stroke="#089981" stroke-width="1"/><rect x="949.5" y="347.5" width="2" height="2.0" fill="none" stroke="#089981" stroke-width="1"/><rect x="954.0" y="345.0" width="3" height="8.0" fill="#f23645"/><rect x="959.0" y="349.0" width="3" height="1.0" fill="#089981"/><rect x="964.5" y="341.5" width="2" height="10.0" fill="none" stroke="#089981" stroke-width="1"/><rect x="968.5" y="334.5" width="2" height="6.0" fill="none" stroke="#089981" stroke-width="1"/><rect x="973.5" y="327.5" width="2" height="7.0" fill="none" stroke="#089981" stroke-width="1"/><rect x="978.0" y="326.0" width="3" height="1.0" fill="#089981"/><rect x="983.0" y="323.0" width="3" height="3.0" fill="#089981"/><rect x="988.5" y="312.5" width="2" height="9.0" fill="none" stroke="#089981" stroke-width="1"/><rect x="993.0" y="311.0" width="3" height="13.0" fill="#f23645"/><rect x="998.5" y="317.5" width="2" height="4.0" fill="none" stroke="#089981" stroke-width="1"/><rect x="1003.0" y="312.0" width="3" height="1.0" fill="#089981"/><rect x="1008.5" y="304.5" width="2" height="5.0" fill="none" stroke="#089981" stroke-width="1"/><rect x="1013.0" y="317.0" width="3" height="5.0" fill="#f23645"/><rect x="1018.0" y="318.0" width="3" height="17.0" fill="#f23645"/><rect x="1023.0" y="333.0" width="3" height="9.0" fill="#f23645"/><rect x="1028.5" y="328.5" width="2" height="5.0" fill="none" stroke="#089981" stroke-width="1"/><rect x="1032.0" y="329.0" width="3" height="2.0" fill="#f23645"/><rect x="1037.0" y="341.0" width="3" height="19.0" fill="#f23645"/><rect x="1042.0" y="359.0" width="3" height="8.0" fill="#f23645"/><rect x="1047.5" y="352.5" width="2" height="5.0" fill="none" stroke="#089981" stroke-width="1"/><rect x="1052.0" y="348.0" width="3" height="4.0" fill="#089981"/><rect x="1057.0" y="348.0" width="3" height="11.0" fill="#f23645"/><rect x="1062.5" y="338.5" width="2" height="3.0" fill="none" stroke="#089981" stroke-width="1"/><rect x="1067.0" y="334.0" width="3" height="21.0" fill="#f23645"/><rect x="1072.0" y="371.0" width="3" height="8.0" fill="#f23645"/><rect x="1077.5" y="415.5" width="2" height="9.0" fill="none" stroke="#f23645" stroke-width="1"/><rect x="1082.5" y="404.5" width="2" height="7.0" fill="none" stroke="#089981" stroke-width="1"/><rect x="1087.0" y="391.0" width="3" height="22.0" fill="#f23645"/><rect x="1092.5" y="385.5" width="2" height="15.0" fill="none" stroke="#089981" stroke-width="1"/><rect x="1096.5" y="379.5" width="2" height="6.0" fill="none" stroke="#089981" stroke-width="1"/><rect x="1101.0" y="377.0" width="3" height="3.0" fill="#089981"/><rect x="1106.5" y="359.5" width="2" height="11.0" fill="none" stroke="#089981" stroke-width="1"/><rect x="1111.5" y="353.5" width="2" height="3.0" fill="none" stroke="#089981" stroke-width="1"/><rect x="1116.5" y="333.5" width="2" height="10.0" fill="none" stroke="#089981" stroke-width="1"/><rect x="1121.5" y="330.5" width="2" height="6.0" fill="none" stroke="#089981" stroke-width="1"/><rect x="1126.5" y="318.5" width="2" height="11.0" fill="none" stroke="#089981" stroke-width="1"/><rect x="1131.0" y="320.0" width="3" height="1.0" fill="#f23645"/><rect x="1136.5" y="315.5" width="2" height="4.0" fill="none" stroke="#089981" stroke-width="1"/><rect x="1141.0" y="311.0" width="3" height="16.0" fill="#f23645"/><rect x="1146.5" y="311.5" width="2" height="8.0" fill="none" stroke="#089981" stroke-width="1"/><rect x="1151.0" y="311.0" width="3" height="6.0" fill="#f23645"/><rect x="1156.5" y="314.5" width="2" height="4.0" fill="none" stroke="#089981" stroke-width="1"/><rect x="1160.0" y="315.0" width="3" height="7.0" fill="#f23645"/><rect x="1165.0" y="319.0" width="3" height="4.0" fill="#f23645"/><rect x="1170.5" y="308.5" width="2" height="8.0" fill="none" stroke="#089981" stroke-width="1"/><rect x="1175.0" y="314.0" width="3" height="23.0" fill="#f23645"/><rect x="1180.5" y="338.5" width="2" height="3.0" fill="none" stroke="#f23645" stroke-width="1"/><rect x="1185.0" y="338.0" width="3" height="4.0" fill="#f23645"/><rect x="1190.0" y="341.0" width="3" height="24.0" fill="#f23645"/><rect x="1195.5" y="350.5" width="2" height="6.0" fill="none" stroke="#089981" stroke-width="1"/><rect x="1200.0" y="344.0" width="3" height="1.0" fill="#089981"/><rect x="1205.5" y="330.5" width="2" height="13.0" fill="none" stroke="#089981" stroke-width="1"/><rect x="1210.5" y="321.5" width="2" height="12.0" fill="none" stroke="#089981" stroke-width="1"/><rect x="1215.5" y="313.5" width="2" height="5.0" fill="none" stroke="#089981" stroke-width="1"/><rect x="1220.5" y="312.5" width="2" height="4.0" fill="none" stroke="#089981" stroke-width="1"/><rect x="1224.0" y="307.0" width="3" height="5.0" fill="#089981"/><rect x="1229.0" y="310.0" width="3" height="6.0" fill="#f23645"/><rect x="1234.5" y="293.5" width="2" height="3.0" fill="none" stroke="#089981" stroke-width="1"/><rect x="1239.0" y="294.0" width="3" height="3.0" fill="#f23645"/><rect x="1244.5" y="292.5" width="2" height="2.0" fill="none" stroke="#089981" stroke-width="1"/><rect x="1249.0" y="289.0" width="3" height="2.0" fill="#089981"/><rect x="1254.0" y="289.0" width="3" height="3.0" fill="#f23645"/><rect x="1259.0" y="282.0" width="3" height="5.0" fill="#089981"/><rect x="1264.0" y="284.0" width="3" height="5.0" fill="#f23645"/><rect x="1269.5" y="282.5" width="2" height="8.0" fill="none" stroke="#089981" stroke-width="1"/><rect x="1274.0" y="283.0" width="3" height="13.0" fill="#f23645"/><rect x="1279.5" y="294.5" width="2" height="3.0" fill="none" stroke="#089981" stroke-width="1"/><rect x="1284.0" y="297.0" width="3" height="1.0" fill="#f23645"/><rect x="1288.5" y="285.5" width="2" height="2.0" fill="none" stroke="#089981" stroke-width="1"/><rect x="1293.0" y="288.0" width="3" height="9.0" fill="#f23645"/><rect x="1298.5" y="284.5" width="2" height="7.0" fill="none" stroke="#089981" stroke-width="1"/><rect x="1303.5" y="275.5" width="2" height="9.0" fill="none" stroke="#089981" stroke-width="1"/><rect x="1308.0" y="279.0" width="3" height="1.0" fill="#f23645"/><rect x="1313.5" y="270.5" width="2" height="8.0" fill="none" stroke="#089981" stroke-width="1"/><rect x="1318.5" y="260.5" width="2" height="6.0" fill="none" stroke="#089981" stroke-width="1"/><rect x="1323.0" y="257.0" width="3" height="14.0" fill="#f23645"/><rect x="1328.5" y="264.5" width="2" height="5.0" fill="none" stroke="#089981" stroke-width="1"/><rect x="1333.0" y="256.0" width="3" height="9.0" fill="#f23645"/><rect x="1338.0" y="258.0" width="3" height="2.0" fill="#089981"/><rect x="1343.0" y="260.0" width="3" height="1.0" fill="#f23645"/><rect x="1348.5" y="262.5" width="2" height="4.0" fill="none" stroke="#f23645" stroke-width="1"/><rect x="1352.0" y="265.0" width="3" height="10.0" fill="#f23645"/><rect x="1357.0" y="269.0" width="3" height="3.0" fill="#089981"/><rect x="1362.0" y="267.0" width="3" height="5.0" fill="#f23645"/><rect x="1367.0" y="266.0" width="3" height="2.0" fill="#089981"/><rect x="1372.5" y="266.5" width="2" height="3.0" fill="none" stroke="#089981" stroke-width="1"/><rect x="1377.0" y="266.0" width="3" height="4.0" fill="#f23645"/><rect x="1382.0" y="279.0" width="3" height="17.0" fill="#f23645"/><rect x="1387.0" y="290.0" width="3" height="1.0" fill="#089981"/><rect x="1392.0" y="292.0" width="3" height="3.0" fill="#f23645"/><rect x="1397.5" y="278.5" width="2" height="12.0" fill="none" stroke="#089981" stroke-width="1"/><rect x="1402.5" y="244.5" width="2" height="13.0" fill="none" stroke="#089981" stroke-width="1"/><rect x="1407.5" y="233.5" width="2" height="6.0" fill="none" stroke="#089981" stroke-width="1"/><rect x="1412.5" y="228.5" width="2" height="5.0" fill="none" stroke="#089981" stroke-width="1"/><rect x="1416.0" y="225.0" width="3" height="3.0" fill="#089981"/><rect x="1421.0" y="226.0" width="3" height="6.0" fill="#f23645"/><rect x="1426.0" y="229.0" width="3" height="1.0" fill="#089981"/><rect x="1431.0" y="230.0" width="3" height="10.0" fill="#f23645"/><rect x="1436.0" y="247.0" width="3" height="11.0" fill="#f23645"/><rect x="1441.5" y="252.5" width="2" height="4.0" fill="none" stroke="#089981" stroke-width="1"/><rect x="1446.5" y="246.5" width="2" height="10.0" fill="none" stroke="#089981" stroke-width="1"/><rect x="1451.0" y="246.0" width="3" height="1.0" fill="#089981"/><rect x="1456.5" y="239.5" width="2" height="2.0" fill="none" stroke="#089981" stroke-width="1"/><rect x="1461.5" y="234.5" width="2" height="5.0" fill="none" stroke="#089981" stroke-width="1"/><rect x="1466.0" y="230.0" width="3" height="1.0" fill="#089981"/><rect x="1471.5" y="222.5" width="2" height="5.0" fill="none" stroke="#089981" stroke-width="1"/><rect x="1476.0" y="224.0" width="3" height="4.0" fill="#f23645"/><rect x="1480.5" y="220.5" width="2" height="6.0" fill="none" stroke="#089981" stroke-width="1"/><rect x="1485.5" y="216.5" width="2" height="2.0" fill="none" stroke="#089981" stroke-width="1"/><rect x="1490.0" y="216.0" width="3" height="2.0" fill="#089981"/><rect x="1495.5" y="207.5" width="2" height="4.0" fill="none" stroke="#089981" stroke-width="1"/><rect x="1500.0" y="207.0" width="3" height="3.0" fill="#f23645"/><rect x="1505.5" y="206.5" width="2" height="2.0" fill="none" stroke="#089981" stroke-width="1"/><rect x="1510.0" y="208.0" width="3" height="8.0" fill="#f23645"/><rect x="1515.0" y="214.0" width="3" height="6.0" fill="#f23645"/><rect x="1520.5" y="208.5" width="2" height="5.0" fill="none" stroke="#089981" stroke-width="1"/><rect x="1525.0" y="210.0" width="3" height="5.0" fill="#f23645"/><rect x="1530.0" y="211.0" width="3" height="5.0" fill="#f23645"/><rect x="1535.5" y="209.5" width="2" height="2.0" fill="none" stroke="#089981" stroke-width="1"/><rect x="1540.0" y="215.0" width="3" height="1.0" fill="#f23645"/><rect x="1544.0" y="217.0" width="3" height="41.0" fill="#f23645"/><rect x="1549.0" y="247.0" width="3" height="12.0" fill="#f23645"/><rect x="1554.5" y="243.5" width="2" height="21.0" fill="none" stroke="#089981" stroke-width="1"/><rect x="1559.5" y="233.5" width="2" height="8.0" fill="none" stroke="#089981" stroke-width="1"/><rect x="1564.5" y="219.5" width="2" height="12.0" fill="none" stroke="#089981" stroke-width="1"/><rect x="1569.5" y="218.5" width="2" height="3.0" fill="none" stroke="#f23645" stroke-width="1"/><rect x="1574.0" y="226.0" width="3" height="9.0" fill="#f23645"/><rect x="1579.0" y="245.0" width="3" height="5.0" fill="#f23645"/><rect x="1584.0" y="246.0" width="3" height="10.0" fill="#f23645"/><rect x="1589.0" y="250.0" width="3" height="8.0" fill="#f23645"/><rect x="1594.5" y="240.5" width="2" height="11.0" fill="none" stroke="#089981" stroke-width="1"/><rect x="1599.0" y="231.0" width="3" height="3.0" fill="#089981"/><rect x="1603.0" y="230.0" width="3" height="19.0" fill="#f23645"/><rect x="1608.5" y="246.5" width="2" height="2.0" fill="none" stroke="#089981" stroke-width="1"/><rect x="1613.0" y="253.0" width="3" height="15.0" fill="#f23645"/><rect x="1618.5" y="265.5" width="2" height="13.0" fill="none" stroke="#089981" stroke-width="1"/><rect x="1623.0" y="260.0" width="3" height="4.0" fill="#089981"/><rect x="1628.5" y="239.5" width="2" height="10.0" fill="none" stroke="#089981" stroke-width="1"/><rect x="1633.0" y="236.0" width="3" height="7.0" fill="#f23645"/><rect x="1638.0" y="228.0" width="3" height="1.0" fill="#089981"/><rect x="1643.5" y="216.5" width="2" height="8.0" fill="none" stroke="#089981" stroke-width="1"/>
</g>
<circle cx="1644.5" cy="662.4" r="11.3" fill="#fff"/>
<circle cx="1644.5" cy="662.4" r="9.5" fill="#fff" stroke="#9c27b0" stroke-width="1.7"/>
<path transform="translate(1644.5 662.4)" d="M3.1 -5.3L-4.5 -0.1L-0.3 0.35L-3.2 5.1L4.4 -0.3L0.4 -0.5Z" fill="#9c27b0" stroke="#9c27b0" stroke-width="0.5" stroke-linejoin="round"/>
<g clip-path="url(#cmacd)">
<path d="M10 709.5H1741" stroke="#6a6d78" stroke-width="1" stroke-dasharray="5 6" stroke-dashoffset="-0.2" fill="none"/>
<g fill="#2962ff"><rect x="10.00" y="709.0" width="1.00" height="6.0"/><rect x="13.00" y="709.0" width="3.00" height="6.0"/><rect x="18.00" y="709.0" width="3.00" height="7.0"/><rect x="23.00" y="709.0" width="3.00" height="7.0"/><rect x="28.00" y="709.0" width="3.00" height="6.0"/><rect x="33.00" y="709.0" width="3.00" height="6.0"/><rect x="38.00" y="709.0" width="3.00" height="5.0"/><rect x="42.00" y="709.0" width="3.00" height="6.0"/><rect x="47.00" y="709.0" width="3.00" height="4.0"/><rect x="52.00" y="709.0" width="3.00" height="3.0"/><rect x="57.00" y="709.0" width="3.00" height="1.0"/><rect x="62.00" y="709.0" width="3.00" height="1.0"/><rect x="67.00" y="707.0" width="3.00" height="3.0"/><rect x="72.00" y="705.0" width="3.00" height="5.0"/><rect x="77.00" y="705.0" width="3.00" height="5.0"/><rect x="82.00" y="705.0" width="3.00" height="5.0"/><rect x="87.00" y="704.0" width="3.00" height="6.0"/><rect x="92.00" y="704.0" width="3.00" height="6.0"/><rect x="97.00" y="706.0" width="3.00" height="4.0"/><rect x="102.00" y="707.0" width="3.00" height="3.0"/><rect x="106.00" y="709.0" width="3.00" height="1.0"/><rect x="111.00" y="709.0" width="3.00" height="2.0"/><rect x="116.00" y="709.0" width="3.00" height="3.0"/><rect x="121.00" y="709.0" width="3.00" height="3.0"/><rect x="126.00" y="709.0" width="3.00" height="4.0"/><rect x="131.00" y="709.0" width="3.00" height="6.0"/><rect x="136.00" y="709.0" width="3.00" height="6.0"/><rect x="141.00" y="709.0" width="3.00" height="4.0"/><rect x="146.00" y="709.0" width="3.00" height="1.0"/><rect x="151.00" y="707.0" width="3.00" height="3.0"/><rect x="156.00" y="704.0" width="3.00" height="6.0"/><rect x="161.00" y="702.0" width="3.00" height="8.0"/><rect x="166.00" y="701.0" width="3.00" height="9.0"/><rect x="170.00" y="700.0" width="3.00" height="10.0"/><rect x="175.00" y="700.0" width="3.00" height="10.0"/><rect x="180.00" y="700.0" width="3.00" height="10.0"/><rect x="185.00" y="700.0" width="3.00" height="10.0"/><rect x="190.00" y="699.0" width="3.00" height="11.0"/><rect x="195.00" y="699.0" width="3.00" height="11.0"/><rect x="200.00" y="699.0" width="3.00" height="11.0"/><rect x="205.00" y="699.0" width="3.00" height="11.0"/><rect x="210.00" y="700.0" width="3.00" height="10.0"/><rect x="215.00" y="701.0" width="3.00" height="9.0"/><rect x="220.00" y="701.0" width="3.00" height="9.0"/><rect x="225.00" y="702.0" width="3.00" height="8.0"/><rect x="230.00" y="703.0" width="3.00" height="7.0"/><rect x="234.00" y="704.0" width="3.00" height="6.0"/><rect x="239.00" y="706.0" width="3.00" height="4.0"/><rect x="244.00" y="706.0" width="3.00" height="4.0"/><rect x="249.00" y="707.0" width="3.00" height="3.0"/><rect x="254.00" y="707.0" width="3.00" height="3.0"/><rect x="259.00" y="709.0" width="3.00" height="1.0"/><rect x="264.00" y="709.0" width="3.00" height="1.0"/><rect x="269.00" y="709.0" width="3.00" height="1.0"/><rect x="274.00" y="709.0" width="3.00" height="1.0"/><rect x="279.00" y="709.0" width="3.00" height="1.0"/><rect x="284.00" y="708.0" width="3.00" height="2.0"/><rect x="289.00" y="707.0" width="3.00" height="3.0"/><rect x="294.00" y="706.0" width="3.00" height="4.0"/><rect x="298.00" y="706.0" width="3.00" height="4.0"/><rect x="303.00" y="705.0" width="3.00" height="5.0"/><rect x="308.00" y="705.0" width="3.00" height="5.0"/><rect x="313.00" y="707.0" width="3.00" height="3.0"/><rect x="318.00" y="708.0" width="3.00" height="2.0"/><rect x="323.00" y="708.0" width="3.00" height="2.0"/><rect x="328.00" y="709.0" width="3.00" height="1.0"/><rect x="333.00" y="709.0" width="3.00" height="1.0"/><rect x="338.00" y="709.0" width="3.00" height="1.0"/><rect x="343.00" y="709.0" width="3.00" height="1.0"/><rect x="348.00" y="709.0" width="3.00" height="2.0"/><rect x="353.00" y="709.0" width="3.00" height="4.0"/><rect x="358.00" y="709.0" width="3.00" height="5.0"/><rect x="362.00" y="709.0" width="3.00" height="5.0"/><rect x="367.00" y="709.0" width="3.00" height="5.0"/><rect x="372.00" y="709.0" width="3.00" height="3.0"/><rect x="377.00" y="709.0" width="3.00" height="3.0"/><rect x="382.00" y="709.0" width="3.00" height="2.0"/><rect x="387.00" y="709.0" width="3.00" height="2.0"/><rect x="392.00" y="709.0" width="3.00" height="3.0"/><rect x="397.00" y="709.0" width="3.00" height="3.0"/><rect x="402.00" y="709.0" width="3.00" height="2.0"/><rect x="407.00" y="709.0" width="3.00" height="1.0"/><rect x="412.00" y="709.0" width="3.00" height="1.0"/><rect x="417.00" y="708.0" width="3.00" height="2.0"/><rect x="422.00" y="708.0" width="3.00" height="2.0"/><rect x="426.00" y="707.0" width="3.00" height="3.0"/><rect x="431.00" y="707.0" width="3.00" height="3.0"/><rect x="436.00" y="706.0" width="3.00" height="4.0"/><rect x="441.00" y="707.0" width="3.00" height="3.0"/><rect x="446.00" y="709.0" width="3.00" height="1.0"/><rect x="451.00" y="709.0" width="3.00" height="1.0"/><rect x="456.00" y="708.0" width="3.00" height="2.0"/><rect x="461.00" y="708.0" width="3.00" height="2.0"/><rect x="466.00" y="708.0" width="3.00" height="2.0"/><rect x="471.00" y="707.0" width="3.00" height="3.0"/><rect x="476.00" y="707.0" width="3.00" height="3.0"/><rect x="481.00" y="706.0" width="3.00" height="4.0"/><rect x="485.00" y="706.0" width="3.00" height="4.0"/><rect x="490.00" y="709.0" width="3.00" height="1.0"/><rect x="495.00" y="709.0" width="3.00" height="1.0"/><rect x="500.00" y="709.0" width="3.00" height="1.0"/><rect x="505.00" y="709.0" width="3.00" height="1.0"/><rect x="510.00" y="709.0" width="3.00" height="2.0"/><rect x="515.00" y="709.0" width="3.00" height="2.0"/><rect x="520.00" y="709.0" width="3.00" height="1.0"/><rect x="525.00" y="709.0" width="3.00" height="1.0"/><rect x="530.00" y="709.0" width="3.00" height="1.0"/><rect x="535.00" y="709.0" width="3.00" height="1.0"/><rect x="540.00" y="709.0" width="3.00" height="1.0"/><rect x="545.00" y="709.0" width="3.00" height="1.0"/><rect x="549.00" y="709.0" width="3.00" height="1.0"/><rect x="554.00" y="709.0" width="3.00" height="1.0"/><rect x="559.00" y="709.0" width="3.00" height="1.0"/><rect x="564.00" y="709.0" width="3.00" height="1.0"/><rect x="569.00" y="709.0" width="3.00" height="1.0"/><rect x="574.00" y="709.0" width="3.00" height="1.0"/><rect x="579.00" y="709.0" width="3.00" height="1.0"/><rect x="584.00" y="709.0" width="3.00" height="1.0"/><rect x="589.00" y="709.0" width="3.00" height="1.0"/><rect x="594.00" y="709.0" width="3.00" height="1.0"/><rect x="599.00" y="709.0" width="3.00" height="1.0"/><rect x="604.00" y="709.0" width="3.00" height="3.0"/><rect x="609.00" y="709.0" width="3.00" height="2.0"/><rect x="613.00" y="709.0" width="3.00" height="1.0"/><rect x="618.00" y="709.0" width="3.00" height="1.0"/><rect x="623.00" y="708.0" width="3.00" height="2.0"/><rect x="628.00" y="708.0" width="3.00" height="2.0"/><rect x="633.00" y="709.0" width="3.00" height="1.0"/><rect x="638.00" y="709.0" width="3.00" height="1.0"/><rect x="643.00" y="708.0" width="3.00" height="2.0"/><rect x="648.00" y="709.0" width="3.00" height="1.0"/><rect x="653.00" y="709.0" width="3.00" height="1.0"/><rect x="658.00" y="709.0" width="3.00" height="3.0"/><rect x="663.00" y="709.0" width="3.00" height="5.0"/><rect x="668.00" y="709.0" width="3.00" height="4.0"/><rect x="673.00" y="709.0" width="3.00" height="4.0"/><rect x="677.00" y="709.0" width="3.00" height="3.0"/><rect x="682.00" y="709.0" width="3.00" height="5.0"/><rect x="687.00" y="709.0" width="3.00" height="5.0"/><rect x="692.00" y="709.0" width="3.00" height="6.0"/><rect x="697.00" y="709.0" width="3.00" height="8.0"/><rect x="702.00" y="709.0" width="3.00" height="9.0"/><rect x="707.00" y="709.0" width="3.00" height="10.0"/><rect x="712.00" y="709.0" width="3.00" height="10.0"/><rect x="717.00" y="709.0" width="3.00" height="9.0"/><rect x="722.00" y="709.0" width="3.00" height="10.0"/><rect x="727.00" y="709.0" width="3.00" height="7.0"/><rect x="732.00" y="709.0" width="3.00" height="6.0"/><rect x="737.00" y="709.0" width="3.00" height="4.0"/><rect x="741.00" y="709.0" width="3.00" height="3.0"/><rect x="746.00" y="709.0" width="3.00" height="1.0"/><rect x="751.00" y="709.0" width="3.00" height="1.0"/><rect x="756.00" y="709.0" width="3.00" height="1.0"/><rect x="761.00" y="709.0" width="3.00" height="1.0"/><rect x="766.00" y="707.0" width="3.00" height="3.0"/><rect x="771.00" y="705.0" width="3.00" height="5.0"/><rect x="776.00" y="704.0" width="3.00" height="6.0"/><rect x="781.00" y="703.0" width="3.00" height="7.0"/><rect x="786.00" y="702.0" width="3.00" height="8.0"/><rect x="791.00" y="702.0" width="3.00" height="8.0"/><rect x="796.00" y="702.0" width="3.00" height="8.0"/><rect x="801.00" y="702.0" width="3.00" height="8.0"/><rect x="805.00" y="701.0" width="3.00" height="9.0"/><rect x="810.00" y="701.0" width="3.00" height="9.0"/><rect x="815.00" y="701.0" width="3.00" height="9.0"/><rect x="820.00" y="702.0" width="3.00" height="8.0"/><rect x="825.00" y="703.0" width="3.00" height="7.0"/><rect x="830.00" y="704.0" width="3.00" height="6.0"/><rect x="835.00" y="706.0" width="3.00" height="4.0"/><rect x="840.00" y="706.0" width="3.00" height="4.0"/><rect x="845.00" y="707.0" width="3.00" height="3.0"/><rect x="850.00" y="708.0" width="3.00" height="2.0"/><rect x="855.00" y="709.0" width="3.00" height="1.0"/><rect x="860.00" y="709.0" width="3.00" height="1.0"/><rect x="865.00" y="709.0" width="3.00" height="1.0"/><rect x="869.00" y="709.0" width="3.00" height="1.0"/><rect x="874.00" y="709.0" width="3.00" height="1.0"/><rect x="879.00" y="709.0" width="3.00" height="1.0"/><rect x="884.00" y="708.0" width="3.00" height="2.0"/><rect x="889.00" y="708.0" width="3.00" height="2.0"/><rect x="894.00" y="708.0" width="3.00" height="2.0"/><rect x="899.00" y="707.0" width="3.00" height="3.0"/><rect x="904.00" y="706.0" width="3.00" height="4.0"/><rect x="909.00" y="706.0" width="3.00" height="4.0"/><rect x="914.00" y="705.0" width="3.00" height="5.0"/><rect x="919.00" y="705.0" width="3.00" height="5.0"/><rect x="924.00" y="705.0" width="3.00" height="5.0"/><rect x="929.00" y="706.0" width="3.00" height="4.0"/><rect x="933.00" y="707.0" width="3.00" height="3.0"/><rect x="938.00" y="708.0" width="3.00" height="2.0"/><rect x="943.00" y="708.0" width="3.00" height="2.0"/><rect x="948.00" y="708.0" width="3.00" height="2.0"/><rect x="953.00" y="709.0" width="3.00" height="1.0"/><rect x="958.00" y="709.0" width="3.00" height="1.0"/><rect x="963.00" y="709.0" width="3.00" height="1.0"/><rect x="968.00" y="709.0" width="3.00" height="1.0"/><rect x="973.00" y="709.0" width="3.00" height="1.0"/><rect x="978.00" y="707.0" width="3.00" height="3.0"/><rect x="983.00" y="707.0" width="3.00" height="3.0"/><rect x="988.00" y="706.0" width="3.00" height="4.0"/><rect x="993.00" y="707.0" width="3.00" height="3.0"/><rect x="997.00" y="707.0" width="3.00" height="3.0"/><rect x="1002.00" y="707.0" width="3.00" height="3.0"/><rect x="1007.00" y="707.0" width="3.00" height="3.0"/><rect x="1012.00" y="708.0" width="3.00" height="2.0"/><rect x="1017.00" y="709.0" width="3.00" height="1.0"/><rect x="1022.00" y="709.0" width="3.00" height="4.0"/><rect x="1027.00" y="709.0" width="3.00" height="4.0"/><rect x="1032.00" y="709.0" width="3.00" height="4.0"/><rect x="1037.00" y="709.0" width="3.00" height="8.0"/><rect x="1042.00" y="709.0" width="3.00" height="9.0"/><rect x="1047.00" y="709.0" width="3.00" height="9.0"/><rect x="1052.00" y="709.0" width="3.00" height="8.0"/><rect x="1057.00" y="709.0" width="3.00" height="8.0"/><rect x="1061.00" y="709.0" width="3.00" height="6.0"/><rect x="1066.00" y="709.0" width="3.00" height="6.0"/><rect x="1071.00" y="709.0" width="3.00" height="7.0"/><rect x="1076.00" y="709.0" width="3.00" height="12.0"/><rect x="1081.00" y="709.0" width="3.00" height="12.0"/><rect x="1086.00" y="709.0" width="3.00" height="13.0"/><rect x="1091.00" y="709.0" width="3.00" height="10.0"/><rect x="1096.00" y="709.0" width="3.00" height="7.0"/><rect x="1101.00" y="709.0" width="3.00" height="5.0"/><rect x="1106.00" y="709.0" width="3.00" height="1.0"/><rect x="1111.00" y="707.0" width="3.00" height="3.0"/><rect x="1116.00" y="703.0" width="3.00" height="7.0"/><rect x="1121.00" y="701.0" width="3.00" height="9.0"/><rect x="1125.00" y="700.0" width="3.00" height="10.0"/><rect x="1130.00" y="698.0" width="3.00" height="12.0"/><rect x="1135.00" y="698.0" width="3.00" height="12.0"/><rect x="1140.00" y="699.0" width="3.00" height="11.0"/><rect x="1145.00" y="699.0" width="3.00" height="11.0"/><rect x="1150.00" y="700.0" width="3.00" height="10.0"/><rect x="1155.00" y="701.0" width="3.00" height="9.0"/><rect x="1160.00" y="703.0" width="3.00" height="7.0"/><rect x="1165.00" y="705.0" width="3.00" height="5.0"/><rect x="1170.00" y="705.0" width="3.00" height="5.0"/><rect x="1175.00" y="707.0" width="3.00" height="3.0"/><rect x="1180.00" y="709.0" width="3.00" height="1.0"/><rect x="1185.00" y="709.0" width="3.00" height="3.0"/><rect x="1189.00" y="709.0" width="3.00" height="6.0"/><rect x="1194.00" y="709.0" width="3.00" height="6.0"/><rect x="1199.00" y="709.0" width="3.00" height="5.0"/><rect x="1204.00" y="709.0" width="3.00" height="3.0"/><rect x="1209.00" y="709.0" width="3.00" height="1.0"/><rect x="1214.00" y="709.0" width="3.00" height="1.0"/><rect x="1219.00" y="707.0" width="3.00" height="3.0"/><rect x="1224.00" y="706.0" width="3.00" height="4.0"/><rect x="1229.00" y="706.0" width="3.00" height="4.0"/><rect x="1234.00" y="705.0" width="3.00" height="5.0"/><rect x="1239.00" y="704.0" width="3.00" height="6.0"/><rect x="1244.00" y="704.0" width="3.00" height="6.0"/><rect x="1248.00" y="703.0" width="3.00" height="7.0"/><rect x="1253.00" y="704.0" width="3.00" height="6.0"/><rect x="1258.00" y="704.0" width="3.00" height="6.0"/><rect x="1263.00" y="705.0" width="3.00" height="5.0"/><rect x="1268.00" y="705.0" width="3.00" height="5.0"/><rect x="1273.00" y="707.0" width="3.00" height="3.0"/><rect x="1278.00" y="708.0" width="3.00" height="2.0"/><rect x="1283.00" y="709.0" width="3.00" height="1.0"/><rect x="1288.00" y="709.0" width="3.00" height="1.0"/><rect x="1293.00" y="709.0" width="3.00" height="1.0"/><rect x="1298.00" y="709.0" width="3.00" height="1.0"/><rect x="1303.00" y="709.0" width="3.00" height="1.0"/><rect x="1308.00" y="709.0" width="3.00" height="1.0"/><rect x="1312.00" y="708.0" width="3.00" height="2.0"/><rect x="1317.00" y="707.0" width="3.00" height="3.0"/><rect x="1322.00" y="707.0" width="3.00" height="3.0"/><rect x="1327.00" y="707.0" width="3.00" height="3.0"/><rect x="1332.00" y="707.0" width="3.00" height="3.0"/><rect x="1337.00" y="707.0" width="3.00" height="3.0"/><rect x="1342.00" y="708.0" width="3.00" height="2.0"/><rect x="1347.00" y="709.0" width="3.00" height="1.0"/><rect x="1352.00" y="709.0" width="3.00" height="1.0"/><rect x="1357.00" y="709.0" width="3.00" height="2.0"/><rect x="1362.00" y="709.0" width="3.00" height="2.0"/><rect x="1367.00" y="709.0" width="3.00" height="2.0"/><rect x="1372.00" y="709.0" width="3.00" height="2.0"/><rect x="1376.00" y="709.0" width="3.00" height="3.0"/><rect x="1381.00" y="709.0" width="3.00" height="6.0"/><rect x="1386.00" y="709.0" width="3.00" height="7.0"/><rect x="1391.00" y="709.0" width="3.00" height="7.0"/><rect x="1396.00" y="709.0" width="3.00" height="5.0"/><rect x="1401.00" y="709.0" width="3.00" height="1.0"/><rect x="1406.00" y="707.0" width="3.00" height="3.0"/><rect x="1411.00" y="704.0" width="3.00" height="6.0"/><rect x="1416.00" y="703.0" width="3.00" height="7.0"/><rect x="1421.00" y="703.0" width="3.00" height="7.0"/><rect x="1426.00" y="703.0" width="3.00" height="7.0"/><rect x="1431.00" y="705.0" width="3.00" height="5.0"/><rect x="1436.00" y="707.0" width="3.00" height="3.0"/><rect x="1440.00" y="709.0" width="3.00" height="1.0"/><rect x="1445.00" y="709.0" width="3.00" height="1.0"/><rect x="1450.00" y="709.0" width="3.00" height="1.0"/><rect x="1455.00" y="709.0" width="3.00" height="1.0"/><rect x="1460.00" y="709.0" width="3.00" height="1.0"/><rect x="1465.00" y="709.0" width="3.00" height="1.0"/><rect x="1470.00" y="708.0" width="3.00" height="2.0"/><rect x="1475.00" y="708.0" width="3.00" height="2.0"/><rect x="1480.00" y="707.0" width="3.00" height="3.0"/><rect x="1485.00" y="707.0" width="3.00" height="3.0"/><rect x="1490.00" y="707.0" width="3.00" height="3.0"/><rect x="1495.00" y="706.0" width="3.00" height="4.0"/><rect x="1500.00" y="706.0" width="3.00" height="4.0"/><rect x="1504.00" y="706.0" width="3.00" height="4.0"/><rect x="1509.00" y="708.0" width="3.00" height="2.0"/><rect x="1514.00" y="709.0" width="3.00" height="1.0"/><rect x="1519.00" y="709.0" width="3.00" height="1.0"/><rect x="1524.00" y="709.0" width="3.00" height="1.0"/><rect x="1529.00" y="709.0" width="3.00" height="1.0"/><rect x="1534.00" y="709.0" width="3.00" height="1.0"/><rect x="1539.00" y="709.0" width="3.00" height="3.0"/><rect x="1544.00" y="709.0" width="3.00" height="7.0"/><rect x="1549.00" y="709.0" width="3.00" height="10.0"/><rect x="1554.00" y="709.0" width="3.00" height="9.0"/><rect x="1559.00" y="709.0" width="3.00" height="7.0"/><rect x="1564.00" y="709.0" width="3.00" height="5.0"/><rect x="1568.00" y="709.0" width="3.00" height="4.0"/><rect x="1573.00" y="709.0" width="3.00" height="4.0"/><rect x="1578.00" y="709.0" width="3.00" height="5.0"/><rect x="1583.00" y="709.0" width="3.00" height="6.0"/><rect x="1588.00" y="709.0" width="3.00" height="6.0"/><rect x="1593.00" y="709.0" width="3.00" height="5.0"/><rect x="1598.00" y="709.0" width="3.00" height="3.0"/><rect x="1603.00" y="709.0" width="3.00" height="3.0"/><rect x="1608.00" y="709.0" width="3.00" height="3.0"/><rect x="1613.00" y="709.0" width="3.00" height="4.0"/><rect x="1618.00" y="709.0" width="3.00" height="5.0"/><rect x="1623.00" y="709.0" width="3.00" height="4.0"/><rect x="1628.00" y="709.0" width="3.00" height="2.0"/><rect x="1632.00" y="709.0" width="3.00" height="1.0"/><rect x="1637.00" y="707.0" width="3.00" height="3.0"/><rect x="1642.00" y="704.0" width="3.00" height="6.0"/></g>
<path d="M10.3 716.1L12.8 717.0L15.3 718.4L17.8 719.6L20.3 720.7L22.8 721.8L25.3 722.6L27.8 723.1L30.3 723.6L32.8 724.0L35.3 724.4L37.8 724.8L40.3 725.3L42.8 725.7L45.3 726.1L47.8 726.3L50.3 726.3L52.8 726.0L55.3 725.6L57.8 724.9L60.3 724.0L62.8 723.0L65.3 721.9L67.8 720.7L70.3 719.6L72.8 718.6L75.3 717.7L77.8 717.0L80.3 716.3L82.8 715.7L85.3 715.0L87.8 714.3L90.3 713.8L92.8 713.4L95.3 713.3L97.8 713.5L100.3 714.1L102.8 714.8L105.3 715.7L107.8 716.7L110.3 717.6L112.8 718.5L115.3 719.2L117.8 720.1L120.3 720.9L122.8 721.9L125.3 723.0L127.8 724.1L130.3 725.1L132.8 725.9L135.3 726.4L137.8 726.5L140.3 726.3L142.8 725.7L145.3 724.8L147.8 723.4L150.3 721.7L152.8 719.8L155.3 717.8L157.8 715.8L160.3 714.0L162.8 712.3L165.3 710.8L167.8 709.5L170.3 708.3L172.8 707.2L175.3 706.3L177.8 705.3L180.3 704.4L182.8 703.3L185.3 702.1L187.8 700.7L190.3 699.2L192.8 697.6L195.3 696.1L197.8 694.8L200.3 693.6L202.8 692.5L205.3 691.5L207.8 690.5L210.3 689.5L212.8 688.6L215.3 687.8L217.8 687.2L220.3 686.7L222.8 686.3L225.3 686.1L227.8 685.9L230.3 685.9L232.8 686.0L235.3 686.2L237.8 686.3L240.3 686.4L242.8 686.4L245.3 686.4L247.8 686.4L250.3 686.4L252.8 686.6L255.3 687.0L257.8 687.5L260.3 688.0L262.8 688.4L265.3 688.9L267.8 689.2L270.3 689.3L272.8 689.4L275.3 689.3L277.8 689.2L280.3 688.8L282.8 688.3L285.3 687.6L287.8 686.8L290.3 686.0L292.8 685.2L295.3 684.5L297.8 684.0L300.3 683.5L302.8 683.0L305.3 682.6L307.8 682.4L310.3 682.5L312.8 682.6L315.3 682.8L317.8 683.0L320.3 683.0L322.8 682.9L325.3 682.8L327.8 682.6L330.3 682.6L332.8 682.6L335.3 682.6L337.8 682.8L340.3 683.3L342.8 683.9L345.3 684.6L347.8 685.5L350.3 686.7L352.8 687.9L355.3 689.1L357.8 690.2L360.3 691.2L362.8 691.9L365.3 692.3L367.8 692.6L370.3 692.7L372.8 692.8L375.3 692.8L377.8 692.8L380.3 692.8L382.8 692.8L385.3 692.8L387.8 693.0L390.3 693.4L392.8 693.8L395.3 694.3L397.8 694.8L400.3 695.0L402.8 694.9L405.3 694.6L407.8 694.2L410.3 693.6L412.8 693.1L415.3 692.5L417.8 692.0L420.3 691.4L422.8 690.8L425.3 690.3L427.8 689.8L430.3 689.5L432.8 689.1L435.3 688.8L437.8 688.6L440.3 688.4L442.8 688.4L445.3 688.5L447.8 688.6L450.3 688.7L452.8 688.6L455.3 688.5L457.8 688.3L460.3 688.1L462.8 687.9L465.3 687.7L467.8 687.4L470.3 687.0L472.8 686.6L475.3 686.2L477.8 685.8L480.3 685.5L482.8 685.3L485.3 685.4L487.8 685.6L490.3 686.0L492.8 686.5L495.3 687.0L497.8 687.3L500.3 687.4L502.8 687.6L505.3 687.9L507.8 688.3L510.3 688.9L512.8 689.3L515.3 689.5L517.8 689.4L520.3 689.1L522.8 688.6L525.3 688.1L527.8 687.8L530.3 687.7L532.8 687.7L535.3 687.8L537.8 687.9L540.3 688.0L542.8 687.9L545.3 687.8L547.8 687.6L550.3 687.4L552.8 687.2L555.3 687.3L557.8 687.5L560.3 687.8L562.8 688.1L565.3 688.4L567.8 688.6L570.3 688.7L572.8 688.7L575.3 688.8L577.8 688.9L580.3 688.9L582.8 688.9L585.3 688.9L587.8 689.0L590.3 689.3L592.8 689.7L595.3 690.2L597.8 690.7L600.3 691.1L602.8 691.3L605.3 691.4L607.8 691.2L610.3 690.9L612.8 690.5L615.3 690.0L617.8 689.5L620.3 689.2L622.8 689.0L625.3 688.9L627.8 689.0L630.3 689.1L632.8 689.2L635.3 689.3L637.8 689.3L640.3 689.2L642.8 689.2L645.3 689.2L647.8 689.4L650.3 689.9L652.8 690.6L655.3 691.5L657.8 692.7L660.3 693.7L662.8 694.7L665.3 695.5L667.8 696.1L670.3 696.5L672.8 696.9L675.3 697.4L677.8 697.9L680.3 698.5L682.8 699.1L685.3 699.8L687.8 700.5L690.3 701.4L692.8 702.5L695.3 704.0L697.8 705.6L700.3 707.3L702.8 709.0L705.3 710.7L707.8 712.4L710.3 714.1L712.8 715.7L715.3 717.1L717.8 718.4L720.3 719.2L722.8 719.6L725.3 719.7L727.8 719.5L730.3 719.2L732.8 718.9L735.3 718.5L737.8 718.1L740.3 717.6L742.8 717.0L745.3 716.5L747.8 716.3L750.3 716.2L752.8 716.3L755.3 716.5L757.8 716.7L760.3 716.5L762.8 716.0L765.3 715.3L767.8 714.2L770.3 712.8L772.8 711.2L775.3 709.7L777.8 708.1L780.3 706.7L782.8 705.4L785.3 704.2L787.8 703.0L790.3 702.0L792.8 701.1L795.3 700.2L797.8 699.3L800.3 698.3L802.8 697.2L805.3 696.1L807.8 694.9L810.3 693.9L812.8 693.0L815.3 692.3L817.8 691.6L820.3 691.1L822.8 690.6L825.3 690.3L827.8 690.1L830.3 690.2L832.8 690.4L835.3 690.6L837.8 690.9L840.3 691.2L842.8 691.4L845.3 691.7L847.8 692.3L850.3 693.1L852.8 693.9L855.3 694.7L857.8 695.4L860.3 695.9L862.8 696.2L865.3 696.4L867.8 696.4L870.3 696.1L872.8 695.7L875.3 695.3L877.8 694.8L880.3 694.4L882.8 694.0L885.3 693.7L887.8 693.4L890.3 693.2L892.8 692.8L895.3 692.4L897.8 691.9L900.3 691.2L902.8 690.6L905.3 690.0L907.8 689.4L910.3 688.9L912.8 688.4L915.3 687.9L917.8 687.5L920.3 687.2L922.8 686.9L925.3 686.8L927.8 686.9L930.3 687.1L932.8 687.3L935.3 687.5L937.8 687.7L940.3 687.8L942.8 687.9L945.3 688.1L947.8 688.3L950.3 688.7L952.8 689.0L955.3 689.4L957.8 689.6L960.3 689.6L962.8 689.6L965.3 689.4L967.8 689.0L970.3 688.7L972.8 688.3L975.3 687.9L977.8 687.6L980.3 687.2L982.8 686.7L985.3 686.2L987.8 685.8L990.3 685.4L992.8 685.1L995.3 684.9L997.8 684.9L1000.3 684.8L1002.8 684.6L1005.3 684.4L1007.8 684.5L1010.3 684.7L1012.8 685.2L1015.3 686.2L1017.8 687.5L1020.3 688.8L1022.8 690.0L1025.3 691.2L1027.8 692.3L1030.3 693.5L1032.8 694.9L1035.3 696.5L1037.8 698.5L1040.3 700.3L1042.8 701.9L1045.3 703.3L1047.8 704.5L1050.3 705.4L1052.8 706.2L1055.3 706.8L1057.8 707.2L1060.3 707.6L1062.8 708.1L1065.3 708.8L1067.8 710.0L1070.3 711.8L1072.8 714.2L1075.3 716.7L1077.8 719.3L1080.3 721.9L1082.8 724.1L1085.3 725.8L1087.8 727.0L1090.3 727.6L1092.8 727.8L1095.3 727.4L1097.8 726.8L1100.3 725.9L1102.8 724.8L1105.3 723.4L1107.8 721.6L1110.3 719.7L1112.8 717.6L1115.3 715.2L1117.8 712.9L1120.3 710.5L1122.8 708.2L1125.3 706.0L1127.8 704.1L1130.3 702.2L1132.8 700.6L1135.3 699.3L1137.8 698.2L1140.3 697.3L1142.8 696.4L1145.3 695.6L1147.8 694.8L1150.3 694.0L1152.8 693.3L1155.3 692.8L1157.8 692.6L1160.3 692.4L1162.8 692.3L1165.3 692.2L1167.8 692.2L1170.3 692.4L1172.8 692.8L1175.3 693.8L1177.8 695.1L1180.3 696.4L1182.8 698.1L1185.3 699.8L1187.8 701.4L1190.3 702.9L1192.8 704.2L1195.3 705.3L1197.8 705.8L1200.3 706.1L1202.8 706.0L1205.3 705.6L1207.8 704.9L1210.3 704.0L1212.8 703.0L1215.3 701.9L1217.8 701.0L1220.3 700.1L1222.8 699.3L1225.3 698.7L1227.8 698.0L1230.3 697.3L1232.8 696.5L1235.3 695.6L1237.8 694.7L1240.3 693.8L1242.8 693.0L1245.3 692.2L1247.8 691.5L1250.3 691.0L1252.8 690.5L1255.3 690.0L1257.8 689.6L1260.3 689.2L1262.8 688.9L1265.3 688.6L1267.8 688.5L1270.3 688.5L1272.8 688.7L1275.3 689.1L1277.8 689.6L1280.3 690.1L1282.8 690.5L1285.3 691.0L1287.8 691.4L1290.3 691.9L1292.8 692.3L1295.3 692.5L1297.8 692.6L1300.3 692.5L1302.8 692.3L1305.3 691.9L1307.8 691.4L1310.3 690.9L1312.8 690.3L1315.3 689.8L1317.8 689.4L1320.3 689.0L1322.8 688.8L1325.3 688.7L1327.8 688.6L1330.3 688.4L1332.8 688.3L1335.3 688.1L1337.8 688.0L1340.3 688.0L1342.8 688.1L1345.3 688.5L1347.8 689.0L1350.3 689.7L1352.8 690.5L1355.3 691.3L1357.8 692.0L1360.3 692.6L1362.8 693.2L1365.3 693.7L1367.8 694.1L1370.3 694.6L1372.8 695.0L1375.3 695.7L1377.8 696.7L1380.3 697.8L1382.8 699.1L1385.3 700.6L1387.8 702.0L1390.3 703.1L1392.8 703.9L1395.3 704.3L1397.8 704.0L1400.3 703.0L1402.8 701.4L1405.3 699.5L1407.8 697.3L1410.3 695.2L1412.8 693.4L1415.3 691.8L1417.8 690.6L1420.3 689.7L1422.8 689.0L1425.3 688.6L1427.8 688.5L1430.3 688.8L1432.8 689.3L1435.3 690.2L1437.8 691.3L1440.3 692.2L1442.8 693.1L1445.3 693.7L1447.8 694.1L1450.3 694.4L1452.8 694.5L1455.3 694.5L1457.8 694.4L1460.3 694.2L1462.8 693.8L1465.3 693.4L1467.8 692.9L1470.3 692.4L1472.8 691.9L1475.3 691.5L1477.8 691.1L1480.3 690.7L1482.8 690.3L1485.3 689.9L1487.8 689.5L1490.3 689.1L1492.8 688.8L1495.3 688.4L1497.8 688.1L1500.3 687.9L1502.8 687.8L1505.3 687.9L1507.8 688.1L1510.3 688.4L1512.8 688.8L1515.3 689.2L1517.8 689.7L1520.3 690.2L1522.8 690.7L1525.3 691.2L1527.8 691.6L1530.3 692.0L1532.8 692.3L1535.3 692.7L1537.8 693.6L1540.3 695.0L1542.8 696.8L1545.3 699.0L1547.8 701.2L1550.3 703.2L1552.8 704.6L1555.3 705.6L1557.8 706.0L1560.3 706.0L1562.8 705.7L1565.3 705.4L1567.8 705.1L1570.3 705.2L1572.8 705.5L1575.3 706.2L1577.8 707.2L1580.3 708.3L1582.8 709.7L1585.3 710.8L1587.8 711.7L1590.3 712.2L1592.8 712.5L1595.3 712.4L1597.8 712.4L1600.3 712.5L1602.8 712.9L1605.3 713.5L1607.8 714.4L1610.3 715.3L1612.8 716.3L1615.3 717.2L1617.8 717.9L1620.3 718.4L1622.8 718.4L1625.3 718.1L1627.8 717.6L1630.3 716.8L1632.8 715.8L1635.3 714.8L1637.8 713.6L1640.3 712.3L1642.8 710.8L1644.5 709.4" fill="none" stroke="#000" stroke-width="2.2" stroke-linejoin="round" stroke-linecap="round"/>
<path d="M10.3 710.6L12.8 711.8L15.3 712.9L17.8 713.9L20.3 714.9L22.8 715.8L25.3 716.7L27.8 717.6L30.3 718.4L32.8 719.1L35.3 719.8L37.8 720.5L40.3 721.0L42.8 721.5L45.3 722.0L47.8 722.4L50.3 722.7L52.8 723.0L55.3 723.2L57.8 723.4L60.3 723.4L62.8 723.4L65.3 723.2L67.8 722.9L70.3 722.6L72.8 722.2L75.3 721.7L77.8 721.2L80.3 720.6L82.8 720.0L85.3 719.4L87.8 718.7L90.3 718.2L92.8 717.7L95.3 717.3L97.8 717.0L100.3 716.8L102.8 716.6L105.3 716.6L107.8 716.7L110.3 716.8L112.8 717.0L115.3 717.2L117.8 717.5L120.3 717.9L122.8 718.4L125.3 718.9L127.8 719.6L130.3 720.2L132.8 720.9L135.3 721.6L137.8 722.2L140.3 722.7L142.8 723.0L145.3 723.2L147.8 723.1L150.3 722.8L152.8 722.4L155.3 721.7L157.8 721.0L160.3 720.1L162.8 719.2L165.3 718.2L167.8 717.2L170.3 716.2L172.8 715.2L175.3 714.2L177.8 713.2L180.3 712.2L182.8 711.2L185.3 710.2L187.8 709.2L190.3 708.1L192.8 707.0L195.3 705.9L197.8 704.7L200.3 703.5L202.8 702.2L205.3 700.9L207.8 699.6L210.3 698.3L212.8 697.1L215.3 695.9L217.8 694.9L220.3 693.9L222.8 693.0L225.3 692.2L227.8 691.4L230.3 690.8L232.8 690.2L235.3 689.7L237.8 689.2L240.3 688.9L242.8 688.6L245.3 688.4L247.8 688.3L250.3 688.1L252.8 688.0L255.3 688.0L257.8 688.0L260.3 688.0L262.8 688.1L265.3 688.2L267.8 688.4L270.3 688.5L272.8 688.5L275.3 688.6L277.8 688.6L280.3 688.6L282.8 688.5L285.3 688.3L287.8 688.2L290.3 688.0L292.8 687.8L295.3 687.5L297.8 687.2L300.3 686.7L302.8 686.2L305.3 685.7L307.8 685.3L310.3 684.9L312.8 684.6L315.3 684.3L317.8 684.2L320.3 684.0L322.8 683.9L325.3 683.7L327.8 683.6L330.3 683.4L332.8 683.3L335.3 683.3L337.8 683.2L340.3 683.3L342.8 683.4L345.3 683.5L347.8 683.7L350.3 684.0L352.8 684.4L355.3 684.8L357.8 685.3L360.3 685.9L362.8 686.4L365.3 687.0L367.8 687.5L370.3 687.9L372.8 688.4L375.3 688.7L377.8 689.0L380.3 689.3L382.8 689.7L385.3 690.0L387.8 690.3L390.3 690.7L392.8 691.1L395.3 691.6L397.8 692.0L400.3 692.4L402.8 692.7L405.3 692.9L407.8 693.0L410.3 692.9L412.8 692.8L415.3 692.7L417.8 692.5L420.3 692.2L422.8 692.0L425.3 691.7L427.8 691.5L430.3 691.2L432.8 690.9L435.3 690.6L437.8 690.3L440.3 690.0L442.8 689.8L445.3 689.6L447.8 689.4L450.3 689.3L452.8 689.3L455.3 689.2L457.8 689.1L460.3 689.0L462.8 688.8L465.3 688.7L467.8 688.5L470.3 688.3L472.8 688.1L475.3 687.9L477.8 687.7L480.3 687.4L482.8 687.2L485.3 687.0L487.8 686.9L490.3 686.8L492.8 686.8L495.3 686.9L497.8 687.0L500.3 687.1L502.8 687.2L505.3 687.4L507.8 687.6L510.3 687.8L512.8 688.0L515.3 688.2L517.8 688.3L520.3 688.3L522.8 688.2L525.3 688.1L527.8 688.0L530.3 687.9L532.8 687.9L535.3 688.0L537.8 688.0L540.3 688.0L542.8 688.0L545.3 687.9L547.8 687.8L550.3 687.7L552.8 687.6L555.3 687.6L557.8 687.7L560.3 687.8L562.8 687.9L565.3 688.0L567.8 688.1L570.3 688.2L572.8 688.2L575.3 688.2L577.8 688.3L580.3 688.3L582.8 688.3L585.3 688.3L587.8 688.4L590.3 688.5L592.8 688.6L595.3 688.8L597.8 689.0L600.3 689.2L602.8 689.4L605.3 689.6L607.8 689.7L610.3 689.8L612.8 689.8L615.3 689.8L617.8 689.7L620.3 689.6L622.8 689.5L625.3 689.4L627.8 689.4L630.3 689.3L632.8 689.2L635.3 689.2L637.8 689.2L640.3 689.1L642.8 689.1L645.3 689.1L647.8 689.2L650.3 689.3L652.8 689.5L655.3 689.8L657.8 690.1L660.3 690.5L662.8 690.9L665.3 691.4L667.8 691.9L670.3 692.4L672.8 692.9L675.3 693.5L677.8 694.0L680.3 694.6L682.8 695.1L685.3 695.7L687.8 696.3L690.3 697.0L692.8 697.7L695.3 698.5L697.8 699.5L700.3 700.5L702.8 701.6L705.3 702.8L707.8 704.0L710.3 705.2L712.8 706.5L715.3 707.7L717.8 709.0L720.3 710.1L722.8 711.2L725.3 712.3L727.8 713.1L730.3 713.9L732.8 714.5L735.3 715.0L737.8 715.4L740.3 715.6L742.8 715.8L745.3 716.0L747.8 716.1L750.3 716.2L752.8 716.3L755.3 716.3L757.8 716.3L760.3 716.2L762.8 716.1L765.3 715.8L767.8 715.4L770.3 714.9L772.8 714.3L775.3 713.7L777.8 713.0L780.3 712.2L782.8 711.5L785.3 710.7L787.8 709.9L790.3 709.1L792.8 708.1L795.3 707.2L797.8 706.2L800.3 705.2L802.8 704.2L805.3 703.2L807.8 702.2L810.3 701.2L812.8 700.2L815.3 699.3L817.8 698.4L820.3 697.6L822.8 696.8L825.3 696.1L827.8 695.4L830.3 694.8L832.8 694.4L835.3 693.9L837.8 693.6L840.3 693.4L842.8 693.3L845.3 693.2L847.8 693.3L850.3 693.3L852.8 693.4L855.3 693.6L857.8 693.8L860.3 694.0L862.8 694.3L865.3 694.5L867.8 694.6L870.3 694.8L872.8 694.8L875.3 694.8L877.8 694.7L880.3 694.7L882.8 694.7L885.3 694.7L887.8 694.6L890.3 694.5L892.8 694.3L895.3 694.0L897.8 693.7L900.3 693.4L902.8 693.1L905.3 692.7L907.8 692.3L910.3 691.9L912.8 691.5L915.3 691.1L917.8 690.7L920.3 690.3L922.8 690.0L925.3 689.7L927.8 689.4L930.3 689.2L932.8 689.0L935.3 688.9L937.8 688.8L940.3 688.7L942.8 688.7L945.3 688.7L947.8 688.6L950.3 688.6L952.8 688.6L955.3 688.6L957.8 688.6L960.3 688.6L962.8 688.6L965.3 688.6L967.8 688.6L970.3 688.5L972.8 688.5L975.3 688.4L977.8 688.2L980.3 688.0L982.8 687.8L985.3 687.5L987.8 687.2L990.3 687.0L992.8 686.8L995.3 686.6L997.8 686.4L1000.3 686.2L1002.8 686.1L1005.3 686.0L1007.8 685.9L1010.3 685.8L1012.8 685.8L1015.3 685.9L1017.8 686.1L1020.3 686.5L1022.8 686.9L1025.3 687.4L1027.8 688.0L1030.3 688.7L1032.8 689.5L1035.3 690.4L1037.8 691.3L1040.3 692.4L1042.8 693.4L1045.3 694.6L1047.8 695.6L1050.3 696.7L1052.8 697.6L1055.3 698.5L1057.8 699.4L1060.3 700.2L1062.8 701.0L1065.3 702.0L1067.8 702.9L1070.3 704.0L1072.8 705.2L1075.3 706.6L1077.8 708.2L1080.3 709.7L1082.8 711.4L1085.3 713.0L1087.8 714.6L1090.3 716.0L1092.8 717.3L1095.3 718.4L1097.8 719.3L1100.3 720.0L1102.8 720.5L1105.3 720.7L1107.8 720.8L1110.3 720.6L1112.8 720.3L1115.3 719.7L1117.8 719.0L1120.3 718.1L1122.8 717.0L1125.3 715.9L1127.8 714.6L1130.3 713.2L1132.8 711.8L1135.3 710.3L1137.8 708.9L1140.3 707.5L1142.8 706.2L1145.3 704.9L1147.8 703.7L1150.3 702.6L1152.8 701.5L1155.3 700.5L1157.8 699.5L1160.3 698.7L1162.8 698.0L1165.3 697.4L1167.8 696.9L1170.3 696.6L1172.8 696.3L1175.3 696.2L1177.8 696.3L1180.3 696.4L1182.8 696.8L1185.3 697.2L1187.8 697.8L1190.3 698.5L1192.8 699.2L1195.3 699.9L1197.8 700.6L1200.3 701.1L1202.8 701.6L1205.3 701.9L1207.8 702.1L1210.3 702.2L1212.8 702.2L1215.3 702.1L1217.8 701.9L1220.3 701.6L1222.8 701.3L1225.3 701.0L1227.8 700.5L1230.3 700.1L1232.8 699.5L1235.3 699.0L1237.8 698.4L1240.3 697.8L1242.8 697.1L1245.3 696.5L1247.8 695.9L1250.3 695.4L1252.8 694.8L1255.3 694.3L1257.8 693.7L1260.3 693.2L1262.8 692.7L1265.3 692.3L1267.8 691.9L1270.3 691.5L1272.8 691.3L1275.3 691.1L1277.8 691.0L1280.3 690.9L1282.8 691.0L1285.3 691.1L1287.8 691.2L1290.3 691.3L1292.8 691.5L1295.3 691.7L1297.8 691.8L1300.3 691.9L1302.8 692.0L1305.3 691.9L1307.8 691.8L1310.3 691.6L1312.8 691.4L1315.3 691.1L1317.8 690.9L1320.3 690.6L1322.8 690.4L1325.3 690.2L1327.8 690.0L1330.3 689.8L1332.8 689.6L1335.3 689.4L1337.8 689.3L1340.3 689.1L1342.8 689.1L1345.3 689.1L1347.8 689.2L1350.3 689.3L1352.8 689.5L1355.3 689.8L1357.8 690.1L1360.3 690.4L1362.8 690.7L1365.3 691.1L1367.8 691.4L1370.3 691.8L1372.8 692.2L1375.3 692.7L1377.8 693.3L1380.3 693.9L1382.8 694.5L1385.3 695.3L1387.8 696.1L1390.3 696.8L1392.8 697.5L1395.3 698.2L1397.8 698.7L1400.3 698.9L1402.8 699.0L1405.3 698.8L1407.8 698.4L1410.3 697.8L1412.8 697.2L1415.3 696.4L1417.8 695.7L1420.3 694.9L1422.8 694.3L1425.3 693.7L1427.8 693.2L1430.3 692.8L1432.8 692.5L1435.3 692.3L1437.8 692.1L1440.3 692.2L1442.8 692.3L1445.3 692.5L1447.8 692.9L1450.3 693.1L1452.8 693.3L1455.3 693.5L1457.8 693.5L1460.3 693.4L1462.8 693.3L1465.3 693.2L1467.8 693.0L1470.3 692.8L1472.8 692.6L1475.3 692.4L1477.8 692.1L1480.3 691.9L1482.8 691.7L1485.3 691.5L1487.8 691.3L1490.3 691.0L1492.8 690.8L1495.3 690.5L1497.8 690.2L1500.3 690.0L1502.8 689.7L1505.3 689.5L1507.8 689.4L1510.3 689.2L1512.8 689.2L1515.3 689.1L1517.8 689.2L1520.3 689.3L1522.8 689.4L1525.3 689.6L1527.8 689.8L1530.3 690.1L1532.8 690.3L1535.3 690.6L1537.8 691.1L1540.3 691.6L1542.8 692.3L1545.3 693.1L1547.8 694.1L1550.3 695.1L1552.8 696.2L1555.3 697.2L1557.8 698.1L1560.3 698.9L1562.8 699.6L1565.3 700.2L1567.8 700.8L1570.3 701.3L1572.8 701.8L1575.3 702.3L1577.8 703.0L1580.3 703.6L1582.8 704.4L1585.3 705.2L1587.8 705.9L1590.3 706.5L1592.8 707.1L1595.3 707.7L1597.8 708.4L1600.3 709.0L1602.8 709.6L1605.3 710.3L1607.8 710.8L1610.3 711.3L1612.8 711.9L1615.3 712.5L1617.8 713.1L1620.3 713.7L1622.8 714.2L1625.3 714.6L1627.8 714.9L1630.3 715.0L1632.8 715.0L1635.3 714.8L1637.8 714.5L1640.3 714.1L1642.8 713.6L1644.5 713.3" fill="none" stroke="#ff9800" stroke-width="2.2" stroke-linejoin="round" stroke-linecap="round"/>
</g>
<path d="M10 125.5H1816M10 675.5H1816" stroke="#e4e6ee" stroke-width="1" fill="none"/>
<rect x="10" y="27" width="1807" height="743" fill="none" stroke="#ebedf3" stroke-width="2"/>
<text x="1753" y="44.8" font-size="15" fill="#131722" textLength="38.6" lengthAdjust="spacingAndGlyphs">80.00</text>
<text x="1753" y="103.8" font-size="15" fill="#131722" textLength="38.6" lengthAdjust="spacingAndGlyphs">40.00</text>
<text x="1753" y="648.4" font-size="15" fill="#131722" textLength="52.7" lengthAdjust="spacingAndGlyphs">4,200.0</text>
<text x="1753" y="555.4" font-size="15" fill="#131722" textLength="52.7" lengthAdjust="spacingAndGlyphs">4,600.0</text>
<text x="1753" y="509.4" font-size="15" fill="#131722" textLength="52.7" lengthAdjust="spacingAndGlyphs">4,800.0</text>
<text x="1753" y="463.4" font-size="15" fill="#131722" textLength="52.7" lengthAdjust="spacingAndGlyphs">5,000.0</text>
<text x="1753" y="416.4" font-size="15" fill="#131722" textLength="52.7" lengthAdjust="spacingAndGlyphs">5,200.0</text>
<text x="1753" y="370.4" font-size="15" fill="#131722" textLength="52.7" lengthAdjust="spacingAndGlyphs">5,400.0</text>
<text x="1753" y="324.4" font-size="15" fill="#131722" textLength="52.7" lengthAdjust="spacingAndGlyphs">5,600.0</text>
<text x="1753" y="231.4" font-size="15" fill="#131722" textLength="52.7" lengthAdjust="spacingAndGlyphs">6,000.0</text>
<text x="1753" y="185.4" font-size="15" fill="#131722" textLength="52.7" lengthAdjust="spacingAndGlyphs">6,200.0</text>
<text x="1753" y="139.4" font-size="15" fill="#131722" textLength="52.7" lengthAdjust="spacingAndGlyphs">6,400.0</text>
<text x="1753" y="278.4" font-size="15" fill="#131722" textLength="52.7" lengthAdjust="spacingAndGlyphs">5,800.0</text>
<text x="1753" y="601.4" font-size="15" fill="#131722" textLength="52.7" lengthAdjust="spacingAndGlyphs">4,400.0</text>
<rect x="1742" y="60" width="56" height="23" rx="2" fill="#787b86"/><text x="1753" y="76.0" font-size="15" fill="#fff" textLength="38.6" lengthAdjust="spacingAndGlyphs">59.18</text>
<rect x="1704" y="205" width="37.5" height="22.7" rx="2" fill="#089981"/><text x="1710" y="220.85" font-size="15" fill="#fff" textLength="26" lengthAdjust="spacingAndGlyphs">SPX</text>
<rect x="1742" y="205" width="70.5" height="22.7" rx="2" fill="#089981"/><text x="1753" y="220.85" font-size="15" fill="#fff" textLength="52.7" lengthAdjust="spacingAndGlyphs">6,049.2</text>
<rect x="1742" y="227.7" width="70.5" height="22.6" rx="0" fill="#2962ff"/><text x="1753" y="243.5" font-size="15" fill="#fff" textLength="52.7" lengthAdjust="spacingAndGlyphs">5,973.1</text>
<rect x="1742" y="250.3" width="70.5" height="22.5" rx="2" fill="#089981"/><text x="1753" y="266.05" font-size="15" fill="#fff" textLength="52.7" lengthAdjust="spacingAndGlyphs">5,945.8</text>
<rect x="1742" y="310.7" width="70.5" height="22.5" rx="2" fill="#f23645"/><text x="1753" y="326.45" font-size="15" fill="#fff" textLength="52.7" lengthAdjust="spacingAndGlyphs">5,593.8</text>
<rect x="1742" y="592.3" width="58.7" height="23" rx="2" fill="#5d606b"/><text x="1753" y="608.3" font-size="15" fill="#fff" textLength="42" lengthAdjust="spacingAndGlyphs">2.92 B</text>
<clipPath id="cmacdax"><rect x="1742" y="690" width="60" height="44"/></clipPath>
<g clip-path="url(#cmacdax)">
<rect x="1742" y="693.2" width="47.8" height="22.5" rx="2" fill="#2962ff"/><text x="1753" y="708.95" font-size="15" fill="#fff" textLength="30" lengthAdjust="spacingAndGlyphs">12.5</text>
<rect x="1742" y="716.2" width="47.8" height="21.799999999999955" rx="2" fill="#000"/>
<text x="1753" y="733.2" font-size="15" fill="#fff" textLength="30" lengthAdjust="spacingAndGlyphs">−2.2</text>
</g>
<text x="44.1" y="756.7" font-size="15" fill="#131722" text-anchor="middle" textLength="8" lengthAdjust="spacingAndGlyphs">3</text>
<text x="147.1" y="756.7" font-size="15" fill="#131722" text-anchor="middle" textLength="27" lengthAdjust="spacingAndGlyphs">Nov</text>
<text x="349.1" y="756.7" font-size="15.2" fill="#131722" text-anchor="middle" font-weight="bold" textLength="36.6" lengthAdjust="spacingAndGlyphs">2024</text>
<text x="453.1" y="756.7" font-size="15" fill="#131722" text-anchor="middle" textLength="25.3" lengthAdjust="spacingAndGlyphs">Feb</text>
<text x="650.1" y="756.7" font-size="15" fill="#131722" text-anchor="middle" textLength="24" lengthAdjust="spacingAndGlyphs">Apr</text>
<text x="758.1" y="756.7" font-size="15" fill="#131722" text-anchor="middle" textLength="28" lengthAdjust="spacingAndGlyphs">May</text>
<text x="866.1" y="756.7" font-size="15" fill="#131722" text-anchor="middle" textLength="25" lengthAdjust="spacingAndGlyphs">Jun</text>
<text x="1068.1" y="756.7" font-size="15" fill="#131722" text-anchor="middle" textLength="27" lengthAdjust="spacingAndGlyphs">Aug</text>
<text x="1176.1" y="756.7" font-size="15" fill="#131722" text-anchor="middle" textLength="26" lengthAdjust="spacingAndGlyphs">Sep</text>
<text x="1280.1" y="756.7" font-size="15" fill="#131722" text-anchor="middle" textLength="8" lengthAdjust="spacingAndGlyphs">2</text>
<text x="1388.1" y="756.7" font-size="15" fill="#131722" text-anchor="middle" textLength="27" lengthAdjust="spacingAndGlyphs">Nov</text>
<text x="1590.1" y="756.7" font-size="15.2" fill="#131722" text-anchor="middle" font-weight="bold" textLength="36.6" lengthAdjust="spacingAndGlyphs">2025</text>
<text x="10.4" y="19.1" font-size="11.6" fill="#131722" textLength="347" lengthAdjust="spacingAndGlyphs">sarge986 published on TradingView.com, Jan 22, 2025 10:47 UTC</text>
<text x="17.7" y="145.1" font-size="11.4" fill="#131722" textLength="118.9" lengthAdjust="spacingAndGlyphs">S&amp;P 500 Index, 1D, SP</text>
<text x="150.70000000000002" y="145.1" font-size="11.4" fill="#131722" text-anchor="end" textLength="7.7" lengthAdjust="spacingAndGlyphs">O</text>
<text x="151.3" y="145.1" font-size="11.4" fill="#089981" textLength="40.2" lengthAdjust="spacingAndGlyphs">6,014.1</text>
<text x="206.3" y="145.1" font-size="11.4" fill="#131722" text-anchor="end" textLength="7.4" lengthAdjust="spacingAndGlyphs">H</text>
<text x="206.9" y="145.1" font-size="11.4" fill="#089981" textLength="40.2" lengthAdjust="spacingAndGlyphs">6,051.5</text>
<text x="259.5" y="145.1" font-size="11.4" fill="#131722" text-anchor="end" textLength="5.6" lengthAdjust="spacingAndGlyphs">L</text>
<text x="260.1" y="145.1" font-size="11.4" fill="#089981" textLength="40.5" lengthAdjust="spacingAndGlyphs">6,006.9</text>
<text x="315.09999999999997" y="145.1" font-size="11.4" fill="#131722" text-anchor="end" textLength="7.7" lengthAdjust="spacingAndGlyphs">C</text>
<text x="315.7" y="145.1" font-size="11.4" fill="#089981" textLength="39.9" lengthAdjust="spacingAndGlyphs">6,049.2</text>
<text x="363" y="145.1" font-size="11.4" fill="#089981" textLength="78.3" lengthAdjust="spacingAndGlyphs">+52.6 (+0.88%)</text>
<text x="448.7" y="145.1" font-size="11.4" fill="#089981" textLength="78.9" lengthAdjust="spacingAndGlyphs">+52.6 (+0.88%)</text>
<g fill="#131722"><path d="M10 782.3H17.65V791.6H13.7V785.9H10z"/><circle cx="20.85" cy="784.1" r="1.9"/><path d="M24.2 782.3H29.2L26.2 791.6H21z"/></g>
<text x="33.1" y="791.6" font-size="12.6" fill="#131722" textLength="70.1" lengthAdjust="spacingAndGlyphs">TradingView</text>
</svg></body></html>
